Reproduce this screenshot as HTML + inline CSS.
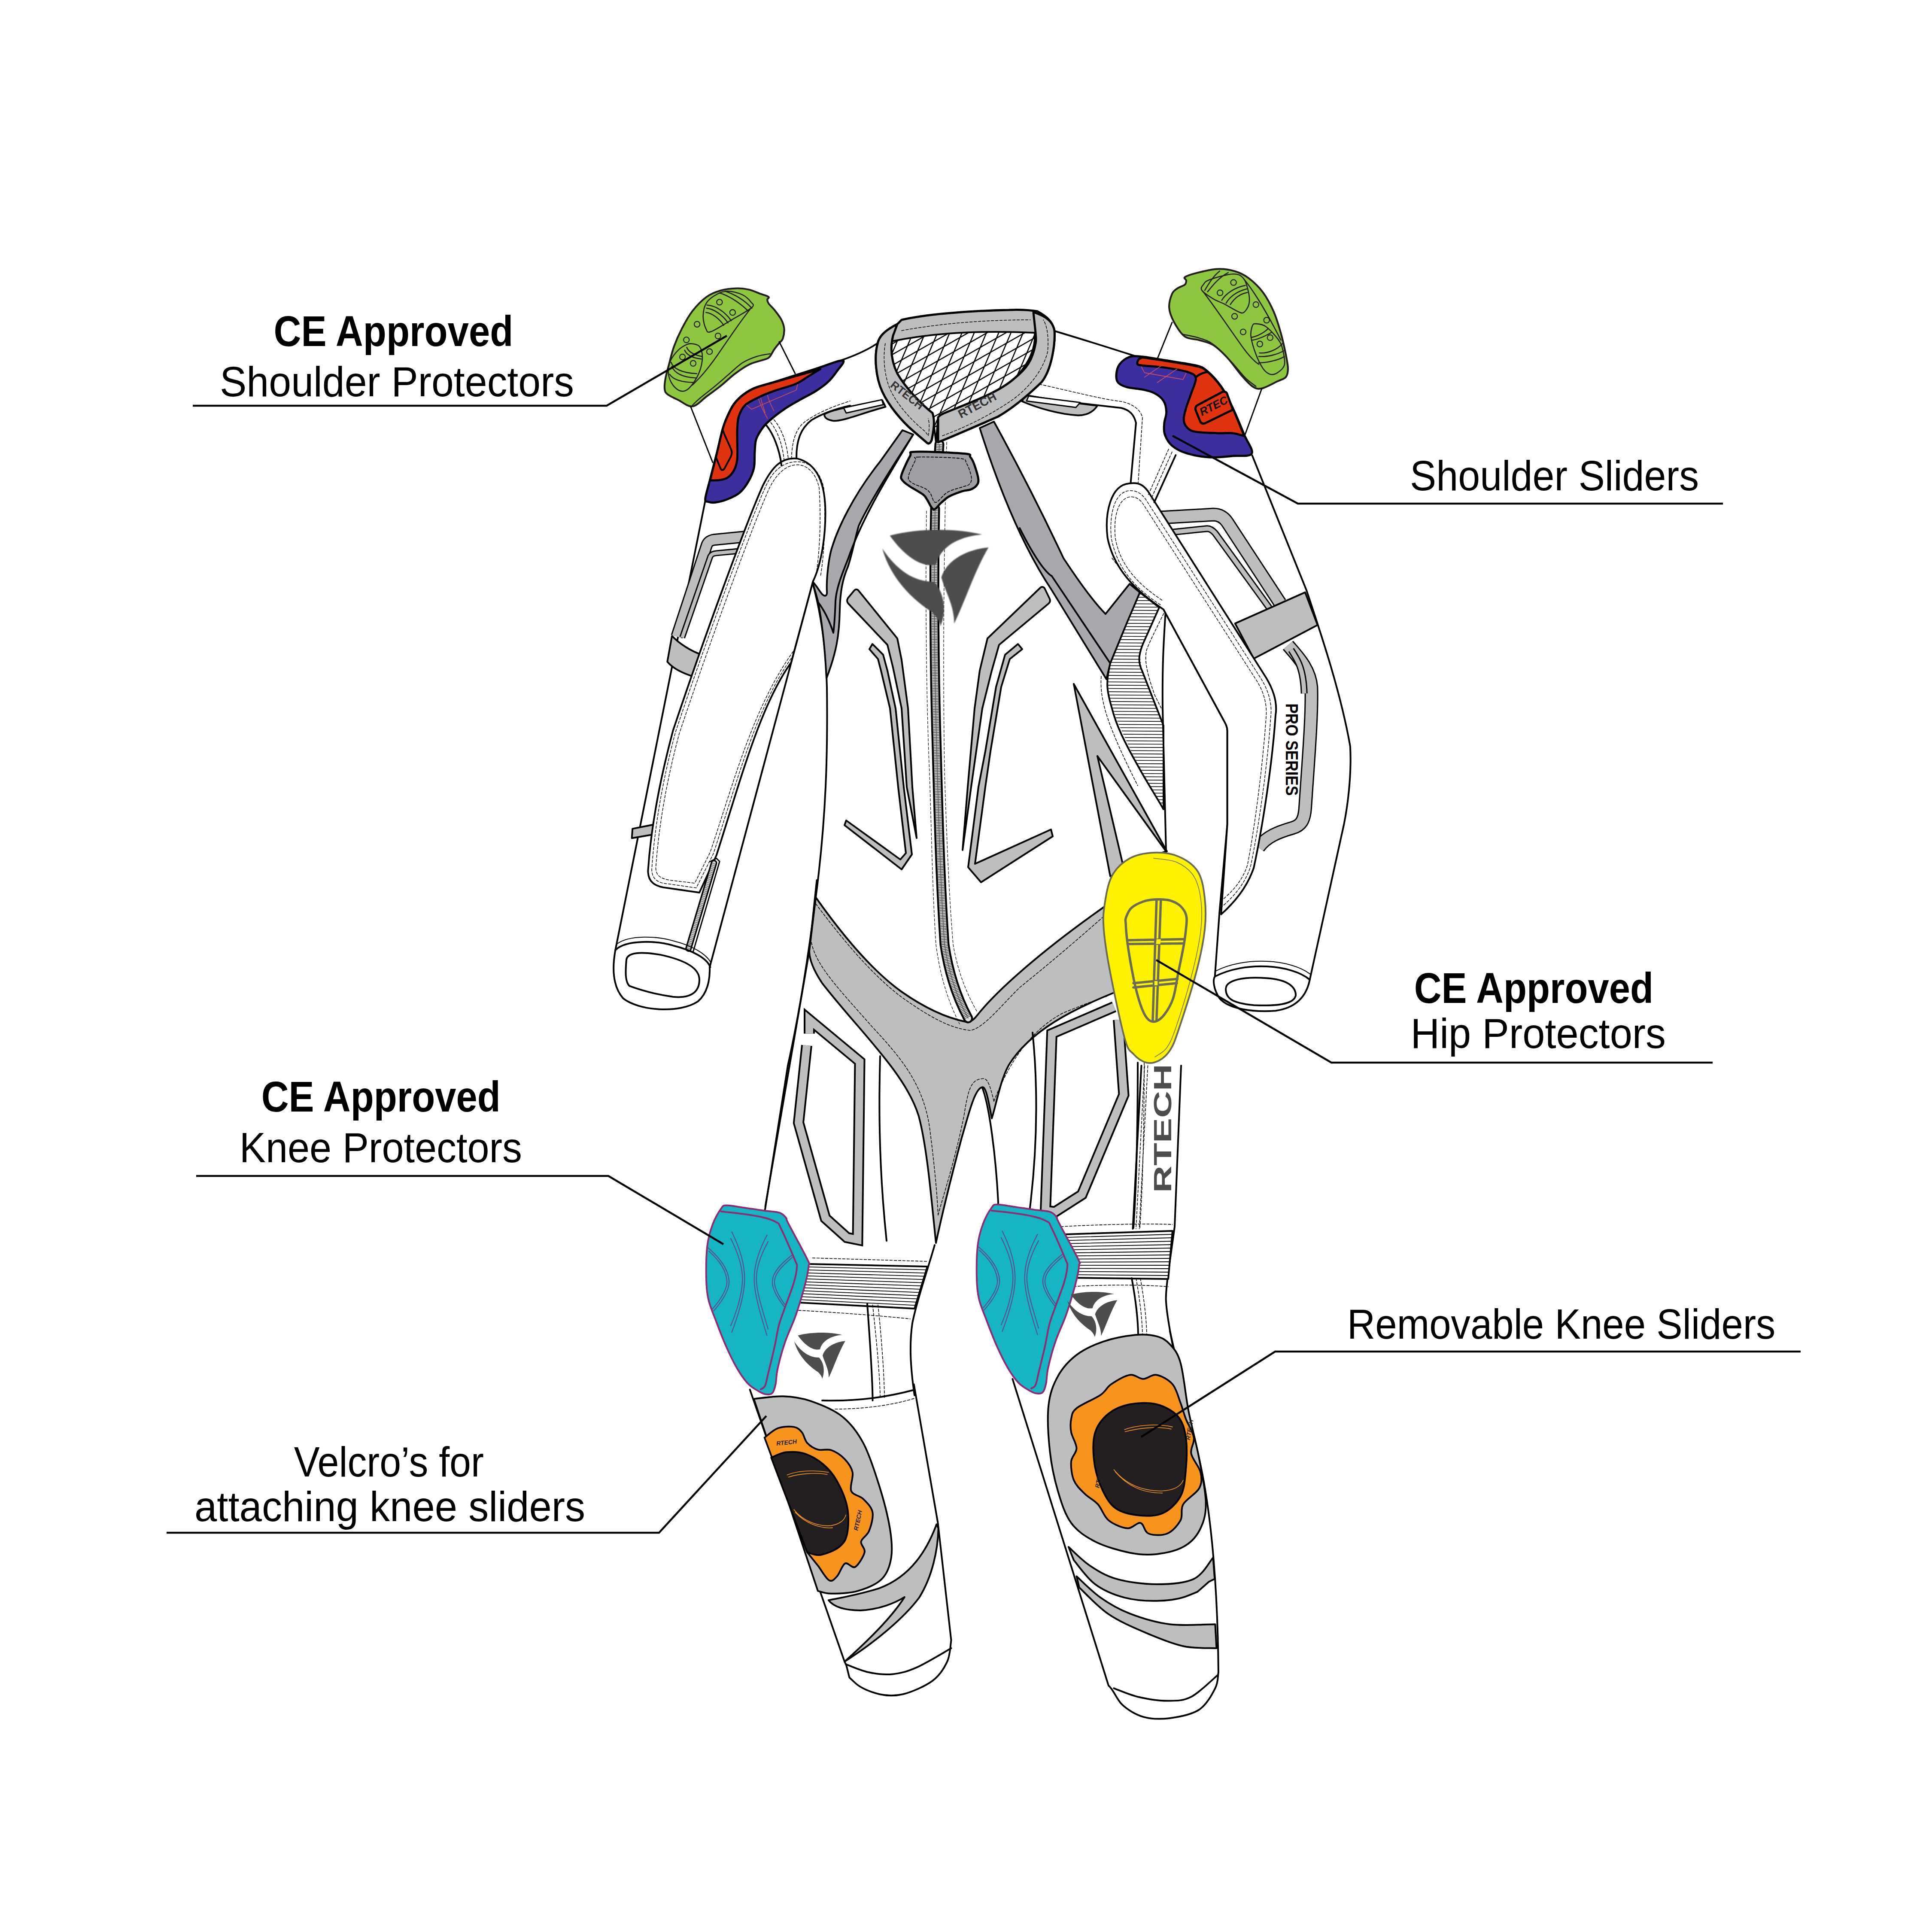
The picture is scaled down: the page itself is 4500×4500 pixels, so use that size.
<!DOCTYPE html>
<html><head><meta charset="utf-8"><style>html,body{margin:0;padding:0;background:#fff;width:4500px;height:4500px;overflow:hidden}svg{display:block}</style></head>
<body><svg xmlns="http://www.w3.org/2000/svg" width="4500" height="4500" viewBox="0 0 4500 4500">
<defs><filter id="blur2"><feGaussianBlur stdDeviation="2"/></filter></defs><rect width="4500" height="4500" fill="#fff"/>
<path d="M 1902.5 2050.0 L 1885.0 2215.0 L 1782.5 2810.0" fill="none" stroke="#000" stroke-width="4"  stroke-linejoin="round" stroke-linecap="round"/>
<path d="M 2177.0 2900.0 C 2160.0 2960.0 2135.0 3030.0 2125.0 3082.0 C 2118.0 3130.0 2120.0 3180.0 2130.0 3250.0" fill="none" stroke="#000" stroke-width="4"  stroke-linejoin="round" stroke-linecap="round"/>
<path d="M 2751.0 2482.0 C 2746.0 2632.0 2738.5 2782.0 2736.0 2857.0 C 2726.0 2932.0 2713.5 3007.0 2716.0 3032.0 C 2718.5 3082.0 2746.0 3207.0 2796.0 3448.0" fill="none" stroke="#000" stroke-width="4"  stroke-linejoin="round" stroke-linecap="round"/>
<path d="M 2287.5 2532.5 C 2305.0 2575.0 2320.0 2700.0 2325.0 2800.0 L 2325.0 2850.0" fill="none" stroke="#000" stroke-width="4"  stroke-linejoin="round" stroke-linecap="round"/>
<path d="M 1900.0 2090.0 C 1960.0 2175.0 2030.0 2260.0 2100.0 2310.0 C 2150.0 2345.0 2200.0 2370.0 2250.0 2380.0 C 2265.0 2380.0 2270.0 2372.5 2280.0 2360.0 C 2325.0 2305.0 2425.0 2215.0 2575.0 2110.0 L 2600.0 2310.0 C 2500.0 2350.0 2400.0 2400.0 2350.0 2480.0 C 2330.0 2515.0 2320.0 2575.0 2310.0 2605.0 C 2300.0 2550.0 2295.0 2530.0 2287.5 2532.5 C 2270.0 2535.0 2255.0 2600.0 2240.0 2650.0 C 2220.0 2725.0 2195.0 2825.0 2180.0 2895.0 C 2170.0 2800.0 2160.0 2675.0 2140.0 2600.0 C 2110.0 2500.0 2000.0 2400.0 1915.0 2290.0 C 1895.0 2260.0 1885.0 2235.0 1885.0 2215.0 Z" fill="#bcbec0" stroke="#000" stroke-width="4"  stroke-linejoin="round" stroke-linecap="round"/>
<path d="M 1900.0 2105.0 C 1960.0 2185.0 2030.0 2270.0 2100.0 2322.5 C 2160.0 2365.0 2210.0 2395.0 2260.0 2400.0 C 2290.0 2395.0 2325.0 2350.0 2375.0 2300.0 C 2450.0 2240.0 2525.0 2175.0 2570.0 2135.0" fill="none" stroke="#000" stroke-width="1.6" stroke-dasharray="6 4" stroke-linejoin="round" stroke-linecap="round"/>
<path d="M 1890.0 2195.0 C 1900.0 2250.0 1960.0 2310.0 2030.0 2390.0 C 2100.0 2465.0 2150.0 2525.0 2165.0 2625.0 C 2175.0 2700.0 2182.5 2775.0 2185.0 2830.0" fill="none" stroke="#000" stroke-width="1.6" stroke-dasharray="6 4" stroke-linejoin="round" stroke-linecap="round"/>
<path d="M 2315.0 2565.0 C 2305.0 2525.0 2300.0 2510.0 2287.5 2512.5 C 2260.0 2515.0 2255.0 2540.0 2245.0 2600.0 C 2225.0 2700.0 2200.0 2775.0 2185.0 2830.0" fill="none" stroke="#000" stroke-width="1.6" stroke-dasharray="6 4" stroke-linejoin="round" stroke-linecap="round"/>
<path d="M 2315.0 2565.0 C 2350.0 2475.0 2400.0 2400.0 2475.0 2360.0 C 2510.0 2345.0 2550.0 2330.0 2580.0 2320.0" fill="none" stroke="#000" stroke-width="1.6" stroke-dasharray="6 4" stroke-linejoin="round" stroke-linecap="round"/>
<path d="M 1885.0 2407.5 L 1885.0 2375.0 L 2002.5 2472.5 L 1997.5 2887.5 L 1972.5 2882.5 L 1922.5 2837.5 L 1860.0 2615.0 L 1879.0 2435.0" fill="none" stroke="#000" stroke-width="26" stroke-linejoin="miter" stroke-linecap="butt"/>
<path d="M 1885.0 2407.5 L 1885.0 2375.0 L 2002.5 2472.5 L 1997.5 2887.5 L 1972.5 2882.5 L 1922.5 2837.5 L 1860.0 2615.0 L 1879.0 2435.0" fill="none" stroke="#bcbec0" stroke-width="18" stroke-linejoin="miter" stroke-linecap="butt"/>
<path d="M 2050.0 2460.0 C 2047.5 2550.0 2045.0 2700.0 2065.0 2890.0" fill="none" stroke="#000" stroke-width="4"  stroke-linejoin="round" stroke-linecap="round"/>
<path d="M 2595.0 2345.0 L 2450.0 2407.5 L 2435.0 2820.0 L 2457.5 2822.5 L 2520.0 2782.5 L 2617.5 2550.0 L 2605.0 2375.0" fill="none" stroke="#000" stroke-width="26" stroke-linejoin="miter" stroke-linecap="butt"/>
<path d="M 2595.0 2345.0 L 2450.0 2407.5 L 2435.0 2820.0 L 2457.5 2822.5 L 2520.0 2782.5 L 2617.5 2550.0 L 2605.0 2375.0" fill="none" stroke="#bcbec0" stroke-width="18" stroke-linejoin="miter" stroke-linecap="butt"/>
<path d="M 2405.0 2405.0 C 2415.0 2500.0 2420.0 2650.0 2397.5 2825.0" fill="none" stroke="#000" stroke-width="4"  stroke-linejoin="round" stroke-linecap="round"/>
<path d="M 2650.0 2475.0 C 2650.0 2600.0 2647.5 2750.0 2640.0 2860.0" fill="none" stroke="#000" stroke-width="4"  stroke-linejoin="round" stroke-linecap="round"/>
<path d="M 2665.0 2475.0 C 2665.0 2600.0 2662.5 2750.0 2655.0 2860.0" fill="none" stroke="#000" stroke-width="1.6" stroke-dasharray="6 4" stroke-linejoin="round" stroke-linecap="round"/>
<path d="M 1881.0 2944.0 L 2160.0 2950.0 L 2130.0 3048.0 L 1862.5 3034.0 Z" fill="#fff" stroke="#000" stroke-width="4"  stroke-linejoin="round" stroke-linecap="round"/>
<path d="M 1879.6 2950.9 L 2157.7 2957.6" fill="none" stroke="#000" stroke-width="1.8"  stroke-linejoin="round" stroke-linecap="round"/>
<path d="M 1878.2 2957.8 L 2155.4 2965.1" fill="none" stroke="#000" stroke-width="1.8"  stroke-linejoin="round" stroke-linecap="round"/>
<path d="M 1876.8 2964.8 L 2153.1 2972.6" fill="none" stroke="#000" stroke-width="1.8"  stroke-linejoin="round" stroke-linecap="round"/>
<path d="M 1875.3 2971.7 L 2150.8 2980.2" fill="none" stroke="#000" stroke-width="1.8"  stroke-linejoin="round" stroke-linecap="round"/>
<path d="M 1873.9 2978.6 L 2148.4 2987.7" fill="none" stroke="#000" stroke-width="1.8"  stroke-linejoin="round" stroke-linecap="round"/>
<path d="M 1872.5 2985.6 L 2146.2 2995.2" fill="none" stroke="#000" stroke-width="1.8"  stroke-linejoin="round" stroke-linecap="round"/>
<path d="M 1871.0 2992.4 L 2143.8 3002.8" fill="none" stroke="#000" stroke-width="1.8"  stroke-linejoin="round" stroke-linecap="round"/>
<path d="M 1869.6 2999.4 L 2141.6 3010.3" fill="none" stroke="#000" stroke-width="1.8"  stroke-linejoin="round" stroke-linecap="round"/>
<path d="M 1868.2 3006.3 L 2139.2 3017.8" fill="none" stroke="#000" stroke-width="1.8"  stroke-linejoin="round" stroke-linecap="round"/>
<path d="M 1866.8 3013.2 L 2136.9 3025.4" fill="none" stroke="#000" stroke-width="1.8"  stroke-linejoin="round" stroke-linecap="round"/>
<path d="M 1865.3 3020.2 L 2134.6 3032.9" fill="none" stroke="#000" stroke-width="1.8"  stroke-linejoin="round" stroke-linecap="round"/>
<path d="M 1863.9 3027.1 L 2132.3 3040.4" fill="none" stroke="#000" stroke-width="1.8"  stroke-linejoin="round" stroke-linecap="round"/>
<path d="M 2481.0 2875.0 L 2731.0 2867.0 L 2721.0 2979.0 L 2481.0 2976.0 Z" fill="#fff" stroke="#000" stroke-width="4"  stroke-linejoin="round" stroke-linecap="round"/>
<path d="M 2481.0 2882.2 L 2730.3 2875.0" fill="none" stroke="#000" stroke-width="1.8"  stroke-linejoin="round" stroke-linecap="round"/>
<path d="M 2481.0 2889.4 L 2729.6 2883.0" fill="none" stroke="#000" stroke-width="1.8"  stroke-linejoin="round" stroke-linecap="round"/>
<path d="M 2481.0 2896.7 L 2728.8 2891.0" fill="none" stroke="#000" stroke-width="1.8"  stroke-linejoin="round" stroke-linecap="round"/>
<path d="M 2481.0 2903.8 L 2728.2 2899.0" fill="none" stroke="#000" stroke-width="1.8"  stroke-linejoin="round" stroke-linecap="round"/>
<path d="M 2481.0 2911.1 L 2727.4 2907.0" fill="none" stroke="#000" stroke-width="1.8"  stroke-linejoin="round" stroke-linecap="round"/>
<path d="M 2481.0 2918.3 L 2726.7 2915.0" fill="none" stroke="#000" stroke-width="1.8"  stroke-linejoin="round" stroke-linecap="round"/>
<path d="M 2481.0 2925.5 L 2726.0 2923.0" fill="none" stroke="#000" stroke-width="1.8"  stroke-linejoin="round" stroke-linecap="round"/>
<path d="M 2481.0 2932.7 L 2725.3 2931.0" fill="none" stroke="#000" stroke-width="1.8"  stroke-linejoin="round" stroke-linecap="round"/>
<path d="M 2481.0 2939.9 L 2724.6 2939.0" fill="none" stroke="#000" stroke-width="1.8"  stroke-linejoin="round" stroke-linecap="round"/>
<path d="M 2481.0 2947.2 L 2723.8 2947.0" fill="none" stroke="#000" stroke-width="1.8"  stroke-linejoin="round" stroke-linecap="round"/>
<path d="M 2481.0 2954.3 L 2723.2 2955.0" fill="none" stroke="#000" stroke-width="1.8"  stroke-linejoin="round" stroke-linecap="round"/>
<path d="M 2481.0 2961.6 L 2722.4 2963.0" fill="none" stroke="#000" stroke-width="1.8"  stroke-linejoin="round" stroke-linecap="round"/>
<path d="M 2481.0 2968.8 L 2721.7 2971.0" fill="none" stroke="#000" stroke-width="1.8"  stroke-linejoin="round" stroke-linecap="round"/>
<path d="M 1892.5 2930.0 L 2160.0 2938.0" fill="none" stroke="#000" stroke-width="1.6" stroke-dasharray="6 4" stroke-linejoin="round" stroke-linecap="round"/>
<path d="M 1860.0 3052.0 C 1950.0 3057.0 2050.0 3064.5 2120.0 3072.0" fill="none" stroke="#000" stroke-width="1.6" stroke-dasharray="6 4" stroke-linejoin="round" stroke-linecap="round"/>
<path d="M 2471.0 2857.0 C 2566.0 2852.0 2666.0 2849.5 2731.0 2852.0" fill="none" stroke="#000" stroke-width="1.6" stroke-dasharray="6 4" stroke-linejoin="round" stroke-linecap="round"/>
<path d="M 2491.0 2997.0 C 2566.0 2992.0 2666.0 2992.0 2721.0 2997.0" fill="none" stroke="#000" stroke-width="1.6" stroke-dasharray="6 4" stroke-linejoin="round" stroke-linecap="round"/>
<path d="M 2020.0 3037.0 C 2025.0 3107.0 2032.5 3207.0 2032.5 3262.0" fill="none" stroke="#000" stroke-width="4"  stroke-linejoin="round" stroke-linecap="round"/>
<path d="M 2032.5 3039.5 C 2040.0 3107.0 2050.0 3207.0 2050.0 3257.0" fill="none" stroke="#000" stroke-width="1.6" stroke-dasharray="6 4" stroke-linejoin="round" stroke-linecap="round"/>
<path d="M 2045.0 3039.5 C 2052.5 3107.0 2060.0 3207.0 2060.0 3257.0" fill="none" stroke="#000" stroke-width="1.6" stroke-dasharray="6 4" stroke-linejoin="round" stroke-linecap="round"/>
<path d="M 1915.0 3262.0 C 2000.0 3264.5 2075.0 3252.0 2130.0 3237.0" fill="none" stroke="#000" stroke-width="4"  stroke-linejoin="round" stroke-linecap="round"/>
<path d="M 1945.0 3282.0 C 2025.0 3282.0 2090.0 3269.5 2130.0 3257.0" fill="none" stroke="#000" stroke-width="1.6" stroke-dasharray="6 4" stroke-linejoin="round" stroke-linecap="round"/>
<path d="M 2636.0 2977.0 C 2646.0 3032.0 2651.0 3082.0 2651.0 3112.0" fill="none" stroke="#000" stroke-width="4"  stroke-linejoin="round" stroke-linecap="round"/>
<path d="M 2646.0 2977.0 C 2656.0 3032.0 2661.0 3082.0 2661.0 3112.0" fill="none" stroke="#000" stroke-width="1.6" stroke-dasharray="6 4" stroke-linejoin="round" stroke-linecap="round"/>
<path d="M 2656.0 2977.0 C 2666.0 3032.0 2671.0 3082.0 2671.0 3112.0" fill="none" stroke="#000" stroke-width="1.6" stroke-dasharray="6 4" stroke-linejoin="round" stroke-linecap="round"/>
<path d="M 2658.5 2482.0 L 2638.5 2862.0" fill="none" stroke="#000" stroke-width="4"  stroke-linejoin="round" stroke-linecap="round"/>
<path d="M 2666.0 2482.0 L 2646.0 2862.0" fill="none" stroke="#000" stroke-width="1.6" stroke-dasharray="6 4" stroke-linejoin="round" stroke-linecap="round"/>
<path d="M 2673.5 2482.0 L 2653.5 2862.0" fill="none" stroke="#000" stroke-width="1.6" stroke-dasharray="6 4" stroke-linejoin="round" stroke-linecap="round"/>
<path d="M 1892.0 1355.0 C 1910.0 1420.0 1924.0 1500.0 1926.0 1600.0 C 1928.0 1750.0 1925.0 1900.0 1900.0 2091.0 C 1880.0 2250.0 1860.0 2370.0 1835.0 2482.0 L 1782.0 2817.0" fill="none" stroke="#000" stroke-width="4"  stroke-linejoin="round" stroke-linecap="round"/>
<path d="M 2102.0 1002.0 L 2127.0 1012.0 C 2090.0 1070.0 2030.0 1160.0 2000.0 1225.0 C 1990.0 1260.0 1985.0 1290.0 1975.0 1320.0 C 1962.0 1350.0 1957.0 1380.0 1956.0 1420.0 C 1955.0 1480.0 1948.0 1520.0 1925.0 1580.0 C 1922.0 1520.0 1915.0 1450.0 1905.0 1400.0 C 1900.0 1380.0 1895.0 1365.0 1892.0 1355.0 C 1900.0 1360.0 1910.0 1380.0 1916.0 1385.0 C 1922.0 1390.0 1927.0 1388.0 1926.0 1377.0 C 1925.0 1360.0 1927.0 1320.0 1935.0 1285.0 C 1950.0 1230.0 1990.0 1150.0 2050.0 1075.0 Z" fill="#a7a9ac" stroke="#000" stroke-width="4"  stroke-linejoin="round" stroke-linecap="round"/>
<path d="M 2127.0 1012.0 C 2080.0 1090.0 2010.0 1200.0 1976.0 1300.0 C 1960.0 1340.0 1948.0 1370.0 1946.0 1400.0 C 1945.0 1430.0 1944.0 1450.0 1941.0 1474.0 C 1930.0 1440.0 1915.0 1415.0 1905.0 1402.0" fill="none" stroke="#000" stroke-width="4"  stroke-linejoin="round" stroke-linecap="round"/>
<path d="M 1977.0 1407.0 C 1972.0 1402.0 1972.0 1398.0 1975.0 1393.0 L 1990.0 1375.0 C 1993.0 1372.0 1997.0 1372.0 2000.0 1376.0 L 2090.0 1487.0 L 2100.0 1537.0 L 2115.0 1650.0 L 2125.0 1833.0 L 2135.0 1952.0 L 2112.0 1833.0 L 2100.0 1650.0 L 2080.0 1555.0 L 2067.0 1502.0 Z" fill="#bcbec0" stroke="#000" stroke-width="4"  stroke-linejoin="round" stroke-linecap="round"/>
<path d="M 2025.0 1512.0 L 2032.0 1500.0 L 2057.0 1525.0 L 2067.0 1562.0 L 2086.0 1650.0 L 2105.0 1833.0 L 2124.0 1990.0 L 2100.0 2025.0 L 1967.0 1922.0 L 1971.0 1911.0 L 2097.0 2002.0 L 2110.0 1987.0 L 2092.0 1833.0 L 2073.0 1650.0 L 2052.0 1562.0 L 2045.0 1535.0 Z" fill="#bcbec0" stroke="#000" stroke-width="4"  stroke-linejoin="round" stroke-linecap="round"/>
<path d="M 2422.0 1370.0 C 2425.0 1366.0 2430.0 1366.0 2433.0 1370.0 L 2445.0 1395.0 C 2447.0 1400.0 2445.0 1404.0 2441.0 1407.0 L 2327.0 1502.0 L 2310.0 1562.0 L 2288.0 1650.0 L 2262.0 1833.0 L 2242.0 1980.0 L 2254.0 1833.0 L 2270.0 1650.0 L 2282.0 1562.0 L 2300.0 1487.0 Z" fill="#bcbec0" stroke="#000" stroke-width="4"  stroke-linejoin="round" stroke-linecap="round"/>
<path d="M 2371.0 1500.0 L 2381.0 1512.0 L 2352.0 1535.0 L 2332.0 1600.0 L 2307.0 1750.0 L 2295.0 1833.0 L 2271.0 2012.0 L 2448.0 1932.0 L 2452.0 1948.0 L 2285.0 2055.0 L 2255.0 2020.0 L 2279.0 1833.0 L 2295.0 1750.0 L 2320.0 1600.0 L 2341.0 1525.0 Z" fill="#bcbec0" stroke="#000" stroke-width="4"  stroke-linejoin="round" stroke-linecap="round"/>
<path d="M 2178.0 1185.0 C 2175.0 1350.0 2176.0 1550.0 2182.0 1750.0 C 2186.0 1900.0 2190.0 2050.0 2200.0 2200.0 C 2212.0 2280.0 2235.0 2335.0 2255.0 2372.0" fill="none" stroke="#000" stroke-width="23"  stroke-linejoin="round" stroke-linecap="round"/>
<path d="M 2178.0 1185.0 C 2175.0 1350.0 2176.0 1550.0 2182.0 1750.0 C 2186.0 1900.0 2190.0 2050.0 2200.0 2200.0 C 2212.0 2280.0 2235.0 2335.0 2255.0 2372.0" fill="none" stroke="#dddddd" stroke-width="14"  stroke-linejoin="round" stroke-linecap="round"/>
<path d="M 2178.0 1185.0 C 2175.0 1350.0 2176.0 1550.0 2182.0 1750.0 C 2186.0 1900.0 2190.0 2050.0 2200.0 2200.0 C 2212.0 2280.0 2235.0 2335.0 2255.0 2372.0" fill="none" stroke="#333" stroke-width="13" stroke-dasharray="1.4 2.4" stroke-linecap="butt" stroke-linejoin="round"/>
<path d="M 2178.0 1185.0 C 2175.0 1350.0 2176.0 1550.0 2182.0 1750.0 C 2186.0 1900.0 2190.0 2050.0 2200.0 2200.0 C 2212.0 2280.0 2235.0 2335.0 2255.0 2372.0" fill="none" stroke="#555" stroke-width="1.5"  stroke-linejoin="round" stroke-linecap="round"/>
<path d="M 2188.0 1035.0 L 2186.0 1070.0" fill="none" stroke="#000" stroke-width="23"  stroke-linejoin="round" stroke-linecap="round"/>
<path d="M 2188.0 1035.0 L 2186.0 1070.0" fill="none" stroke="#dddddd" stroke-width="14"  stroke-linejoin="round" stroke-linecap="round"/>
<path d="M 2188.0 1035.0 L 2186.0 1070.0" fill="none" stroke="#333" stroke-width="13" stroke-dasharray="1.4 2.4" stroke-linecap="butt" stroke-linejoin="round"/>
<path d="M 2188.0 1035.0 L 2186.0 1070.0" fill="none" stroke="#555" stroke-width="1.5"  stroke-linejoin="round" stroke-linecap="round"/>
<path d="M 2158.0 1190.0 C 2155.0 1400.0 2158.0 1650.0 2165.0 1800.0 C 2170.0 1950.0 2172.0 2080.0 2180.0 2200.0 C 2192.0 2290.0 2215.0 2345.0 2235.0 2385.0" fill="none" stroke="#000" stroke-width="1.2" stroke-dasharray="6 4" stroke-linejoin="round" stroke-linecap="round"/>
<path d="M 2205.0 1030.0 C 2198.0 1300.0 2196.0 1550.0 2200.0 1800.0 C 2205.0 1950.0 2210.0 2080.0 2220.0 2200.0 C 2232.0 2270.0 2255.0 2320.0 2275.0 2355.0" fill="none" stroke="#000" stroke-width="1.2" stroke-dasharray="6 4" stroke-linejoin="round" stroke-linecap="round"/>
<path d="M 2132.2 1052.2 C 2153.3 1051.2 2225.1 1054.4 2246.5 1056.5 C 2267.8 1058.6 2256.4 1060.6 2260.1 1064.6 C 2263.9 1068.6 2265.7 1072.0 2268.8 1080.7 C 2271.9 1089.4 2277.9 1108.3 2278.8 1116.8 C 2279.6 1125.3 2276.9 1127.7 2273.8 1131.7 C 2270.7 1135.6 2265.5 1138.3 2260.1 1140.4 C 2254.7 1142.4 2249.8 1141.4 2241.5 1144.1 C 2233.2 1146.8 2218.7 1152.0 2210.4 1156.5 C 2202.1 1161.1 2197.8 1166.5 2191.8 1171.4 C 2185.8 1176.4 2179.8 1187.6 2174.4 1186.3 C 2169.0 1185.1 2163.6 1169.8 2159.5 1164.0 C 2155.4 1158.2 2156.6 1156.9 2149.6 1151.6 C 2142.5 1146.2 2125.1 1137.1 2117.3 1131.7 C 2109.4 1126.3 2105.3 1123.6 2102.4 1119.3 C 2099.5 1114.9 2097.0 1115.1 2099.9 1105.6 C 2102.8 1096.1 2114.4 1071.0 2119.8 1062.1 C 2125.1 1053.2 2111.1 1053.1 2132.2 1052.2 Z" fill="#9d9fa2" stroke="#000" stroke-width="5"  stroke-linejoin="round" stroke-linecap="round"/>
<path d="M 2138.4 1064.6 C 2155.6 1063.9 2216.4 1065.2 2235.3 1067.7 C 2254.1 1070.2 2246.9 1072.1 2251.4 1079.5 C 2256.0 1086.9 2261.6 1103.7 2262.6 1111.8 C 2263.6 1119.9 2261.2 1124.2 2257.6 1128.0 C 2254.1 1131.7 2250.0 1131.1 2241.5 1134.2 C 2233.0 1137.3 2217.1 1140.6 2206.7 1146.6 C 2196.4 1152.6 2186.0 1169.8 2179.4 1170.2 C 2172.8 1170.6 2171.1 1154.4 2167.0 1149.1 C 2162.8 1143.7 2161.8 1142.0 2154.5 1137.9 C 2147.3 1133.8 2129.9 1129.0 2123.5 1124.2 C 2117.1 1119.5 2114.6 1118.0 2116.0 1109.3 C 2117.5 1100.6 2128.4 1079.5 2132.2 1072.0 C 2135.9 1064.6 2121.2 1065.3 2138.4 1064.6 Z" fill="none" stroke="#000" stroke-width="1.8" stroke-dasharray="6 4" stroke-linejoin="round" stroke-linecap="round"/>
<g transform="translate(2055.0 1230.0) scale(0.500) translate(-610 -560)" filter="url(#blur2)">
<path d="M 645 595 C 780 560 950 560 1075 590 C 960 600 880 650 860 730 C 800 745 720 700 645 595 Z" fill="#4d4d4d"/>
<path d="M 610 655 C 650 800 760 900 840 950 C 870 980 885 1010 880 1020 C 910 950 900 860 850 810 C 760 810 680 760 610 655 Z" fill="#4d4d4d"/>
<path d="M 1105 650 C 1000 660 910 710 885 790 C 905 860 945 920 945 1005 C 1000 890 1040 760 1105 650 Z" fill="#4d4d4d"/>
</g>
<path d="M 2282.0 997.0 L 2315.0 982.0 C 2380.0 1100.0 2430.0 1200.0 2477.0 1300.0 C 2510.0 1350.0 2545.0 1400.0 2575.0 1430.0 L 2631.0 1360.0 L 2655.0 1380.0 L 2586.0 1545.0 L 2577.0 1582.0 L 2450.0 1375.0 C 2400.0 1300.0 2340.0 1180.0 2282.0 997.0 Z" fill="#a7a9ac" stroke="#000" stroke-width="4"  stroke-linejoin="round" stroke-linecap="round"/>
<path d="M 2375.0 1230.0 C 2400.0 1280.0 2430.0 1330.0 2450.0 1342.0 L 2586.0 1545.0" fill="none" stroke="#000" stroke-width="4"  stroke-linejoin="round" stroke-linecap="round"/>
<clipPath id="clipH1"><path d="M 2655 1380 L 2700 1415 L 2662 1500 L 2655 1525 L 2660 1562 L 2710 1690 L 2710 1885 L 2650 1783 L 2600 1675 L 2580 1612 L 2577 1582 L 2586 1545 L 2625 1450 Z"/></clipPath>
<path d="M 2655.0 1380.0 L 2700.0 1415.0 L 2662.0 1500.0 C 2650.0 1530.0 2652.0 1545.0 2660.0 1562.0 L 2710.0 1690.0 L 2710.0 1885.0 C 2690.0 1850.0 2670.0 1820.0 2650.0 1783.0 C 2620.0 1730.0 2600.0 1690.0 2590.0 1650.0 C 2578.0 1610.0 2575.0 1590.0 2586.0 1545.0 L 2625.0 1450.0 Z" fill="#fff" stroke="#000" stroke-width="4"  stroke-linejoin="round" stroke-linecap="round"/>
<g clip-path="url(#clipH1)">
<path d="M 2560.0 1383.0 L 2720.0 1384.0" fill="none" stroke="#000" stroke-width="1.6"  stroke-linejoin="round" stroke-linecap="round"/>
<path d="M 2560.0 1390.6 L 2720.0 1391.6" fill="none" stroke="#000" stroke-width="1.6"  stroke-linejoin="round" stroke-linecap="round"/>
<path d="M 2560.0 1398.2 L 2720.0 1399.2" fill="none" stroke="#000" stroke-width="1.6"  stroke-linejoin="round" stroke-linecap="round"/>
<path d="M 2560.0 1405.8 L 2720.0 1406.8" fill="none" stroke="#000" stroke-width="1.6"  stroke-linejoin="round" stroke-linecap="round"/>
<path d="M 2560.0 1413.4 L 2720.0 1414.4" fill="none" stroke="#000" stroke-width="1.6"  stroke-linejoin="round" stroke-linecap="round"/>
<path d="M 2560.0 1421.0 L 2720.0 1422.0" fill="none" stroke="#000" stroke-width="1.6"  stroke-linejoin="round" stroke-linecap="round"/>
<path d="M 2560.0 1428.6 L 2720.0 1429.6" fill="none" stroke="#000" stroke-width="1.6"  stroke-linejoin="round" stroke-linecap="round"/>
<path d="M 2560.0 1436.2 L 2720.0 1437.2" fill="none" stroke="#000" stroke-width="1.6"  stroke-linejoin="round" stroke-linecap="round"/>
<path d="M 2560.0 1443.8 L 2720.0 1444.8" fill="none" stroke="#000" stroke-width="1.6"  stroke-linejoin="round" stroke-linecap="round"/>
<path d="M 2560.0 1451.4 L 2720.0 1452.4" fill="none" stroke="#000" stroke-width="1.6"  stroke-linejoin="round" stroke-linecap="round"/>
<path d="M 2560.0 1459.0 L 2720.0 1460.0" fill="none" stroke="#000" stroke-width="1.6"  stroke-linejoin="round" stroke-linecap="round"/>
<path d="M 2560.0 1466.6 L 2720.0 1467.6" fill="none" stroke="#000" stroke-width="1.6"  stroke-linejoin="round" stroke-linecap="round"/>
<path d="M 2560.0 1474.2 L 2720.0 1475.2" fill="none" stroke="#000" stroke-width="1.6"  stroke-linejoin="round" stroke-linecap="round"/>
<path d="M 2560.0 1481.8 L 2720.0 1482.8" fill="none" stroke="#000" stroke-width="1.6"  stroke-linejoin="round" stroke-linecap="round"/>
<path d="M 2560.0 1489.4 L 2720.0 1490.4" fill="none" stroke="#000" stroke-width="1.6"  stroke-linejoin="round" stroke-linecap="round"/>
<path d="M 2560.0 1497.0 L 2720.0 1498.0" fill="none" stroke="#000" stroke-width="1.6"  stroke-linejoin="round" stroke-linecap="round"/>
<path d="M 2560.0 1504.6 L 2720.0 1505.6" fill="none" stroke="#000" stroke-width="1.6"  stroke-linejoin="round" stroke-linecap="round"/>
<path d="M 2560.0 1512.2 L 2720.0 1513.2" fill="none" stroke="#000" stroke-width="1.6"  stroke-linejoin="round" stroke-linecap="round"/>
<path d="M 2560.0 1519.8 L 2720.0 1520.8" fill="none" stroke="#000" stroke-width="1.6"  stroke-linejoin="round" stroke-linecap="round"/>
<path d="M 2560.0 1527.4 L 2720.0 1528.4" fill="none" stroke="#000" stroke-width="1.6"  stroke-linejoin="round" stroke-linecap="round"/>
<path d="M 2560.0 1535.0 L 2720.0 1536.0" fill="none" stroke="#000" stroke-width="1.6"  stroke-linejoin="round" stroke-linecap="round"/>
<path d="M 2560.0 1542.6 L 2720.0 1543.6" fill="none" stroke="#000" stroke-width="1.6"  stroke-linejoin="round" stroke-linecap="round"/>
<path d="M 2560.0 1550.2 L 2720.0 1551.2" fill="none" stroke="#000" stroke-width="1.6"  stroke-linejoin="round" stroke-linecap="round"/>
<path d="M 2560.0 1557.8 L 2720.0 1558.8" fill="none" stroke="#000" stroke-width="1.6"  stroke-linejoin="round" stroke-linecap="round"/>
<path d="M 2560.0 1565.4 L 2720.0 1566.4" fill="none" stroke="#000" stroke-width="1.6"  stroke-linejoin="round" stroke-linecap="round"/>
<path d="M 2560.0 1573.0 L 2720.0 1574.0" fill="none" stroke="#000" stroke-width="1.6"  stroke-linejoin="round" stroke-linecap="round"/>
<path d="M 2560.0 1580.6 L 2720.0 1581.6" fill="none" stroke="#000" stroke-width="1.6"  stroke-linejoin="round" stroke-linecap="round"/>
<path d="M 2560.0 1588.2 L 2720.0 1589.2" fill="none" stroke="#000" stroke-width="1.6"  stroke-linejoin="round" stroke-linecap="round"/>
<path d="M 2560.0 1595.8 L 2720.0 1596.8" fill="none" stroke="#000" stroke-width="1.6"  stroke-linejoin="round" stroke-linecap="round"/>
<path d="M 2560.0 1603.4 L 2720.0 1604.4" fill="none" stroke="#000" stroke-width="1.6"  stroke-linejoin="round" stroke-linecap="round"/>
<path d="M 2560.0 1611.0 L 2720.0 1612.0" fill="none" stroke="#000" stroke-width="1.6"  stroke-linejoin="round" stroke-linecap="round"/>
<path d="M 2560.0 1618.6 L 2720.0 1619.6" fill="none" stroke="#000" stroke-width="1.6"  stroke-linejoin="round" stroke-linecap="round"/>
<path d="M 2560.0 1626.2 L 2720.0 1627.2" fill="none" stroke="#000" stroke-width="1.6"  stroke-linejoin="round" stroke-linecap="round"/>
<path d="M 2560.0 1633.8 L 2720.0 1634.8" fill="none" stroke="#000" stroke-width="1.6"  stroke-linejoin="round" stroke-linecap="round"/>
<path d="M 2560.0 1641.4 L 2720.0 1642.4" fill="none" stroke="#000" stroke-width="1.6"  stroke-linejoin="round" stroke-linecap="round"/>
<path d="M 2560.0 1649.0 L 2720.0 1650.0" fill="none" stroke="#000" stroke-width="1.6"  stroke-linejoin="round" stroke-linecap="round"/>
<path d="M 2560.0 1656.6 L 2720.0 1657.6" fill="none" stroke="#000" stroke-width="1.6"  stroke-linejoin="round" stroke-linecap="round"/>
<path d="M 2560.0 1664.2 L 2720.0 1665.2" fill="none" stroke="#000" stroke-width="1.6"  stroke-linejoin="round" stroke-linecap="round"/>
<path d="M 2560.0 1671.8 L 2720.0 1672.8" fill="none" stroke="#000" stroke-width="1.6"  stroke-linejoin="round" stroke-linecap="round"/>
<path d="M 2560.0 1679.4 L 2720.0 1680.4" fill="none" stroke="#000" stroke-width="1.6"  stroke-linejoin="round" stroke-linecap="round"/>
<path d="M 2560.0 1687.0 L 2720.0 1688.0" fill="none" stroke="#000" stroke-width="1.6"  stroke-linejoin="round" stroke-linecap="round"/>
<path d="M 2560.0 1694.6 L 2720.0 1695.6" fill="none" stroke="#000" stroke-width="1.6"  stroke-linejoin="round" stroke-linecap="round"/>
<path d="M 2560.0 1702.2 L 2720.0 1703.2" fill="none" stroke="#000" stroke-width="1.6"  stroke-linejoin="round" stroke-linecap="round"/>
<path d="M 2560.0 1709.8 L 2720.0 1710.8" fill="none" stroke="#000" stroke-width="1.6"  stroke-linejoin="round" stroke-linecap="round"/>
<path d="M 2560.0 1717.4 L 2720.0 1718.4" fill="none" stroke="#000" stroke-width="1.6"  stroke-linejoin="round" stroke-linecap="round"/>
<path d="M 2560.0 1725.0 L 2720.0 1726.0" fill="none" stroke="#000" stroke-width="1.6"  stroke-linejoin="round" stroke-linecap="round"/>
<path d="M 2560.0 1732.6 L 2720.0 1733.6" fill="none" stroke="#000" stroke-width="1.6"  stroke-linejoin="round" stroke-linecap="round"/>
<path d="M 2560.0 1740.2 L 2720.0 1741.2" fill="none" stroke="#000" stroke-width="1.6"  stroke-linejoin="round" stroke-linecap="round"/>
<path d="M 2560.0 1747.8 L 2720.0 1748.8" fill="none" stroke="#000" stroke-width="1.6"  stroke-linejoin="round" stroke-linecap="round"/>
<path d="M 2560.0 1755.4 L 2720.0 1756.4" fill="none" stroke="#000" stroke-width="1.6"  stroke-linejoin="round" stroke-linecap="round"/>
<path d="M 2560.0 1763.0 L 2720.0 1764.0" fill="none" stroke="#000" stroke-width="1.6"  stroke-linejoin="round" stroke-linecap="round"/>
<path d="M 2560.0 1770.6 L 2720.0 1771.6" fill="none" stroke="#000" stroke-width="1.6"  stroke-linejoin="round" stroke-linecap="round"/>
<path d="M 2560.0 1778.2 L 2720.0 1779.2" fill="none" stroke="#000" stroke-width="1.6"  stroke-linejoin="round" stroke-linecap="round"/>
<path d="M 2560.0 1785.8 L 2720.0 1786.8" fill="none" stroke="#000" stroke-width="1.6"  stroke-linejoin="round" stroke-linecap="round"/>
<path d="M 2560.0 1793.4 L 2720.0 1794.4" fill="none" stroke="#000" stroke-width="1.6"  stroke-linejoin="round" stroke-linecap="round"/>
<path d="M 2560.0 1801.0 L 2720.0 1802.0" fill="none" stroke="#000" stroke-width="1.6"  stroke-linejoin="round" stroke-linecap="round"/>
<path d="M 2560.0 1808.6 L 2720.0 1809.6" fill="none" stroke="#000" stroke-width="1.6"  stroke-linejoin="round" stroke-linecap="round"/>
<path d="M 2560.0 1816.2 L 2720.0 1817.2" fill="none" stroke="#000" stroke-width="1.6"  stroke-linejoin="round" stroke-linecap="round"/>
<path d="M 2560.0 1823.8 L 2720.0 1824.8" fill="none" stroke="#000" stroke-width="1.6"  stroke-linejoin="round" stroke-linecap="round"/>
<path d="M 2560.0 1831.4 L 2720.0 1832.4" fill="none" stroke="#000" stroke-width="1.6"  stroke-linejoin="round" stroke-linecap="round"/>
<path d="M 2560.0 1839.0 L 2720.0 1840.0" fill="none" stroke="#000" stroke-width="1.6"  stroke-linejoin="round" stroke-linecap="round"/>
<path d="M 2560.0 1846.6 L 2720.0 1847.6" fill="none" stroke="#000" stroke-width="1.6"  stroke-linejoin="round" stroke-linecap="round"/>
<path d="M 2560.0 1854.2 L 2720.0 1855.2" fill="none" stroke="#000" stroke-width="1.6"  stroke-linejoin="round" stroke-linecap="round"/>
<path d="M 2560.0 1861.8 L 2720.0 1862.8" fill="none" stroke="#000" stroke-width="1.6"  stroke-linejoin="round" stroke-linecap="round"/>
<path d="M 2560.0 1869.4 L 2720.0 1870.4" fill="none" stroke="#000" stroke-width="1.6"  stroke-linejoin="round" stroke-linecap="round"/>
<path d="M 2560.0 1877.0 L 2720.0 1878.0" fill="none" stroke="#000" stroke-width="1.6"  stroke-linejoin="round" stroke-linecap="round"/>
<path d="M 2560.0 1884.6 L 2720.0 1885.6" fill="none" stroke="#000" stroke-width="1.6"  stroke-linejoin="round" stroke-linecap="round"/>
<path d="M 2560.0 1892.2 L 2720.0 1893.2" fill="none" stroke="#000" stroke-width="1.6"  stroke-linejoin="round" stroke-linecap="round"/>
</g>
<path d="M 2565.0 1575.0 C 2562.0 1610.0 2570.0 1650.0 2590.0 1700.0 C 2610.0 1750.0 2630.0 1790.0 2650.0 1830.0" fill="none" stroke="#000" stroke-width="1.6" stroke-dasharray="6 4" stroke-linejoin="round" stroke-linecap="round"/>
<path d="M 2715.0 1420.0 C 2700.0 1450.0 2680.0 1490.0 2672.0 1510.0 C 2665.0 1530.0 2668.0 1560.0 2690.0 1620.0 L 2710.0 1660.0" fill="none" stroke="#000" stroke-width="1.6" stroke-dasharray="6 4" stroke-linejoin="round" stroke-linecap="round"/>
<path d="M 2590.0 1300.0 C 2620.0 1340.0 2660.0 1380.0 2715.0 1425.0" fill="none" stroke="#000" stroke-width="1.6" stroke-dasharray="6 4" stroke-linejoin="round" stroke-linecap="round"/>
<path d="M 2501.0 1593.0 L 2718.0 1983.0 L 2586.0 2041.0 Z M 2556.0 1761.0 L 2716.0 1983.0 L 2616.0 2016.0 Z" fill="#bcbec0" stroke="#000" stroke-width="4" fill-rule="evenodd" stroke-linejoin="round" stroke-linecap="round"/>
<path d="M 2715.0 1422.0 C 2710.0 1500.0 2707.0 1550.0 2708.0 1650.0 L 2716.0 1985.0" fill="none" stroke="#000" stroke-width="4"  stroke-linejoin="round" stroke-linecap="round"/>
<path d="M 1647.1 1144.2 L 1433.3 2213.0 C 1426.1 2252.9 1426.1 2296.4 1451.4 2325.4 C 1487.7 2354.3 1581.9 2361.6 1625.4 2332.6 C 1647.1 2314.5 1654.3 2281.9 1652.9 2252.9 L 1893.5 1354.3" fill="#fff" stroke="#000" stroke-width="4"  stroke-linejoin="round" stroke-linecap="round"/>
<path d="M 1576.1 1482.6 L 1645.7 1271.0 C 1648.6 1261.6 1654.3 1258.7 1663.0 1257.2 L 1736.2 1250.0" fill="none" stroke="#000" stroke-width="28" stroke-linejoin="miter" stroke-linecap="butt"/>
<path d="M 1576.1 1482.6 L 1645.7 1271.0 C 1648.6 1261.6 1654.3 1258.7 1663.0 1257.2 L 1736.2 1250.0" fill="none" stroke="#bcbec0" stroke-width="22" stroke-linejoin="miter" stroke-linecap="butt"/>
<path d="M 1589.1 1484.8 L 1654.3 1296.4 C 1657.2 1290.6 1661.6 1289.1 1668.8 1288.4 L 1723.2 1283.3" fill="none" stroke="#000" stroke-width="14" stroke-linejoin="miter" stroke-linecap="butt"/>
<path d="M 1589.1 1484.8 L 1654.3 1296.4 C 1657.2 1290.6 1661.6 1289.1 1668.8 1288.4 L 1723.2 1283.3" fill="none" stroke="#bcbec0" stroke-width="8" stroke-linejoin="miter" stroke-linecap="butt"/>
<path d="M 1565.2 1481.2 C 1581.9 1499.3 1610.9 1517.4 1634.1 1524.6 L 1618.1 1576.8 C 1589.1 1568.1 1567.4 1557.2 1554.3 1541.3 Z" fill="#bcbec0" stroke="#000" stroke-width="4"  stroke-linejoin="round" stroke-linecap="round"/>
<path d="M 1473.2 1930.4 L 1527.5 1919.6 L 1522.5 1943.5 L 1471.7 1952.2 Z" fill="#bcbec0" stroke="#000" stroke-width="4"  stroke-linejoin="round" stroke-linecap="round"/>
<path d="M 1893.5 1354.3 C 1908.0 1325.4 1922.5 1267.4 1922.5 1194.9 C 1922.5 1122.5 1900.7 1079.0 1857.2 1068.1 C 1821.0 1064.5 1799.3 1086.2 1777.5 1129.7 C 1741.3 1209.4 1639.9 1484.8 1567.4 1702.2 C 1538.4 1810.9 1516.7 1919.6 1509.4 2028.3 C 1509.4 2053.6 1523.9 2064.5 1552.9 2068.1 L 1629.0 2079.0 L 1668.8 1992.0 C 1726.8 1810.9 1770.3 1644.2 1842.8 1542.8 Z" fill="#fff" stroke="#000" stroke-width="4"  stroke-linejoin="round" stroke-linecap="round"/>
<path d="M 1900.7 1339.9 C 1911.6 1267.4 1911.6 1194.9 1908.0 1137.0 C 1900.7 1100.7 1879.0 1082.6 1857.2 1082.6 C 1828.3 1082.6 1806.5 1108.0 1792.0 1137.0 C 1755.8 1216.7 1654.3 1492.0 1581.9 1709.4 C 1552.9 1818.1 1534.8 1919.6 1527.5 2021.0 C 1527.5 2039.1 1538.4 2046.4 1560.1 2050.0 L 1618.1 2057.2 L 1654.3 1984.8 C 1712.3 1810.9 1755.8 1644.2 1850.0 1513.8" fill="none" stroke="#000" stroke-width="1.5" stroke-dasharray="6 4" stroke-linejoin="round" stroke-linecap="round"/>
<path d="M 1911.6 1339.9 C 1922.5 1267.4 1922.5 1194.9 1918.8 1137.0 C 1909.4 1093.5 1882.6 1075.4 1857.2 1075.4 C 1821.0 1075.4 1797.8 1100.7 1783.3 1133.3 C 1747.1 1213.0 1645.7 1488.4 1573.2 1705.8 C 1544.2 1814.5 1525.4 1919.6 1518.1 2024.6 C 1518.1 2046.4 1531.2 2057.2 1556.5 2058.7 L 1621.7 2068.1 L 1661.6 1988.4 C 1719.6 1810.9 1763.0 1644.2 1846.4 1528.3" fill="none" stroke="#000" stroke-width="1.5" stroke-dasharray="6 4" stroke-linejoin="round" stroke-linecap="round"/>
<path d="M 1603.6 2209.4 L 1663.0 2010.1" fill="none" stroke="#000" stroke-width="15"  stroke-linejoin="round" stroke-linecap="round"/>
<path d="M 1603.6 2209.4 L 1663.0 2010.1" fill="none" stroke="#d0d0d0" stroke-width="8"  stroke-linejoin="round" stroke-linecap="round"/>
<path d="M 1603.6 2209.4 L 1663.0 2010.1" fill="none" stroke="#555" stroke-width="8" stroke-dasharray="1.2 3" stroke-linecap="butt" stroke-linejoin="round"/>
<path d="M 1614.5 2216.7 L 1676.1 2006.5 L 1668.8 1999.3 L 1654.3 2006.5" fill="none" stroke="#000" stroke-width="3"  stroke-linejoin="round" stroke-linecap="round"/>
<path d="M 1433.3 2213.0 C 1458.7 2187.7 1531.2 2191.3 1567.4 2202.2 C 1610.9 2213.0 1647.1 2231.2 1654.3 2252.9" fill="none" stroke="#000" stroke-width="4"  stroke-linejoin="round" stroke-linecap="round"/>
<path d="M 1437.0 2198.6 C 1465.9 2176.8 1531.2 2180.4 1567.4 2191.3 C 1610.9 2202.2 1643.5 2220.3 1655.8 2242.0" fill="none" stroke="#000" stroke-width="2"  stroke-linejoin="round" stroke-linecap="round"/>
<path d="M 1458.7 2238.4 C 1458.7 2216.7 1494.9 2216.7 1538.4 2223.9 C 1589.1 2234.8 1629.0 2252.9 1629.0 2281.9 C 1629.0 2314.5 1603.6 2325.4 1567.4 2321.7 C 1531.2 2316.7 1494.9 2307.2 1465.9 2296.4 C 1455.1 2285.5 1457.2 2260.1 1458.7 2238.4 Z" fill="#fff" stroke="#000" stroke-width="4"  stroke-linejoin="round" stroke-linecap="round"/>
<path d="M 2916.7 1060.9 L 3043.5 1376.1 C 3079.7 1484.8 3123.2 1615.2 3144.9 1738.4 C 3148.6 1810.9 3137.7 1883.3 3130.4 1919.6 L 3050.7 2281.9 C 3043.5 2318.1 3021.7 2347.1 2971.0 2354.3 C 2920.3 2358.0 2862.3 2350.7 2840.6 2325.4 C 2826.1 2303.6 2824.6 2281.9 2829.7 2274.6 L 2840.6 2122.5 L 2858.7 1919.6 L 2858.7 1702.2 C 2858.7 1691.3 2853.6 1684.1 2847.8 1673.2 L 2710.1 1419.6" fill="#fff" stroke="#000" stroke-width="4"  stroke-linejoin="round" stroke-linecap="round"/>
<path d="M 2699.3 1205.8 L 2826.1 1198.6 C 2840.6 1198.6 2851.4 1205.8 2858.7 1216.7 L 2981.9 1405.1" fill="none" stroke="#000" stroke-width="32" stroke-linejoin="miter" stroke-linecap="butt"/>
<path d="M 2699.3 1205.8 L 2826.1 1198.6 C 2840.6 1198.6 2851.4 1205.8 2858.7 1216.7 L 2981.9 1405.1" fill="none" stroke="#bcbec0" stroke-width="26" stroke-linejoin="miter" stroke-linecap="butt"/>
<path d="M 2728.3 1239.9 L 2811.6 1231.2 C 2818.8 1231.2 2826.1 1237.0 2830.4 1242.0 L 2956.5 1415.9" fill="none" stroke="#000" stroke-width="16" stroke-linejoin="miter" stroke-linecap="butt"/>
<path d="M 2728.3 1239.9 L 2811.6 1231.2 C 2818.8 1231.2 2826.1 1237.0 2830.4 1242.0 L 2956.5 1415.9" fill="none" stroke="#bcbec0" stroke-width="10" stroke-linejoin="miter" stroke-linecap="butt"/>
<path d="M 3000.0 1502.9 C 3021.7 1528.3 3050.7 1557.2 3054.3 1600.7 C 3056.5 1665.9 3047.1 1774.6 3039.9 1883.3 C 3037.7 1912.3 3029.0 1923.2 3010.9 1928.3 C 2978.3 1937.7 2949.3 1948.6 2931.2 1973.9" fill="none" stroke="#000" stroke-width="32" stroke-linejoin="miter" stroke-linecap="butt"/>
<path d="M 3000.0 1502.9 C 3021.7 1528.3 3050.7 1557.2 3054.3 1600.7 C 3056.5 1665.9 3047.1 1774.6 3039.9 1883.3 C 3037.7 1912.3 3029.0 1923.2 3010.9 1928.3 C 2978.3 1937.7 2949.3 1948.6 2931.2 1973.9" fill="none" stroke="#bcbec0" stroke-width="26" stroke-linejoin="miter" stroke-linecap="butt"/>
<path d="M 3007.2 1513.8 C 3021.7 1535.5 3036.2 1557.2 3037.7 1615.2" fill="none" stroke="#000" stroke-width="16" stroke-linejoin="miter" stroke-linecap="butt"/>
<path d="M 3007.2 1513.8 C 3021.7 1535.5 3036.2 1557.2 3037.7 1615.2" fill="none" stroke="#bcbec0" stroke-width="10" stroke-linejoin="miter" stroke-linecap="butt"/>
<path d="M 2876.8 1452.2 L 3039.9 1379.7 L 3068.8 1455.8 L 2920.3 1534.1 Z" fill="#bcbec0" stroke="#000" stroke-width="4"  stroke-linejoin="round" stroke-linecap="round"/>
<path d="M 2710.1 1419.6 C 2644.9 1376.1 2594.2 1325.4 2579.7 1252.9 C 2572.5 1194.9 2587.0 1129.7 2630.4 1126.1 C 2652.2 1122.5 2663.0 1129.7 2673.9 1144.2 L 2949.3 1579.0 C 2971.0 1615.2 2974.6 1644.2 2971.0 1665.9 C 2963.8 1774.6 2942.0 1919.6 2920.3 2021.0 C 2905.8 2064.5 2876.8 2100.7 2844.2 2129.7 L 2858.7 1919.6 L 2858.7 1702.2 C 2858.7 1691.3 2853.6 1684.1 2847.8 1673.2 Z" fill="#fff" stroke="#000" stroke-width="4"  stroke-linejoin="round" stroke-linecap="round"/>
<path d="M 2706.5 1397.8 C 2652.2 1361.6 2608.7 1318.1 2597.8 1252.9 C 2592.8 1202.2 2605.1 1158.7 2634.1 1157.2 C 2648.6 1157.2 2655.8 1164.5 2663.0 1174.6 L 2927.5 1586.2 C 2945.7 1615.2 2950.7 1644.2 2949.3 1665.9 C 2942.0 1774.6 2923.9 1919.6 2905.8 2013.8 C 2894.9 2050.0 2869.6 2079.0 2840.6 2100.7" fill="none" stroke="#000" stroke-width="1.5" stroke-dasharray="6 4" stroke-linejoin="round" stroke-linecap="round"/>
<path d="M 2702.9 1408.7 C 2641.3 1368.8 2601.4 1321.7 2588.4 1252.9 C 2583.3 1198.6 2595.7 1144.2 2631.9 1142.8 C 2650.7 1142.8 2659.4 1151.4 2668.1 1162.3 L 2938.4 1582.6 C 2958.0 1615.2 2962.3 1644.2 2960.1 1665.9 C 2952.9 1774.6 2933.3 1919.6 2913.0 2017.4 C 2900.7 2057.2 2873.2 2089.9 2842.0 2115.2" fill="none" stroke="#000" stroke-width="1.5" stroke-dasharray="6 4" stroke-linejoin="round" stroke-linecap="round"/>
<text transform="translate(2994.9 1638.4) rotate(90)" font-family="Liberation Sans, sans-serif" font-weight="bold" font-size="40" textLength="215" lengthAdjust="spacingAndGlyphs">PRO SERIES</text>
<path d="M 2829.7 2274.6 C 2898.6 2238.4 3007.2 2245.7 3050.7 2281.9" fill="none" stroke="#000" stroke-width="4"  stroke-linejoin="round" stroke-linecap="round"/>
<path d="M 2831.9 2261.6 C 2898.6 2227.5 3007.2 2232.6 3054.3 2271.0" fill="none" stroke="#000" stroke-width="2"  stroke-linejoin="round" stroke-linecap="round"/>
<path d="M 2855.1 2303.6 C 2855.1 2281.9 2898.6 2274.6 2949.3 2278.3 C 3007.2 2281.9 3018.1 2303.6 3018.1 2318.1 C 3014.5 2339.9 2971.0 2343.5 2920.3 2341.3 C 2869.6 2336.2 2855.1 2325.4 2855.1 2303.6 Z" fill="#fff" stroke="#000" stroke-width="4"  stroke-linejoin="round" stroke-linecap="round"/>
<path d="M 2050.0 795.0 C 2030.0 810.0 2000.0 825.0 1960.0 839.0" fill="none" stroke="#000" stroke-width="4"  stroke-linejoin="round" stroke-linecap="round"/>
<path d="M 2453.0 770.0 C 2520.0 790.0 2590.0 812.0 2646.0 830.0" fill="none" stroke="#000" stroke-width="4"  stroke-linejoin="round" stroke-linecap="round"/>
<path d="M 1784.0 989.6 C 1798.9 1006.3 1815.6 1043.6 1820.3 1084.6" fill="none" stroke="#000" stroke-width="4"  stroke-linejoin="round" stroke-linecap="round"/>
<path d="M 1795.1 984.0 C 1810.1 1002.6 1823.1 1034.3 1826.8 1077.1" fill="none" stroke="#000" stroke-width="1.6" stroke-dasharray="6 4" stroke-linejoin="round" stroke-linecap="round"/>
<path d="M 1802.6 977.4 C 1819.4 997.0 1832.4 1028.7 1836.1 1069.7" fill="none" stroke="#000" stroke-width="1.6" stroke-dasharray="6 4" stroke-linejoin="round" stroke-linecap="round"/>
<path d="M 1855.1 1067.8 C 1854.4 1025.0 1865.9 997.0 1890.2 978.4 C 1918.1 961.6 1955.4 950.4 1980.0 944.8" fill="none" stroke="#000" stroke-width="4"  stroke-linejoin="round" stroke-linecap="round"/>
<path d="M 1843.6 1068.7 C 1844.5 1025.0 1854.8 997.0 1875.3 982.1 C 1908.8 957.9 1951.7 943.0 1980.0 934.0" fill="none" stroke="#000" stroke-width="1.6" stroke-dasharray="6 4" stroke-linejoin="round" stroke-linecap="round"/>
<path d="M 1920.0 965.0 C 1935.0 955.0 1965.0 950.0 2055.0 932.5 L 2062.5 947.5 C 2000.0 965.0 1960.0 982.5 1940.0 980.0 C 1925.0 977.5 1920.0 972.5 1920.0 965.0 Z" fill="#bcbec0" stroke="#000" stroke-width="4"  stroke-linejoin="round" stroke-linecap="round"/>
<path d="M 1965.0 950.0 L 1971.0 962.0 L 2057.5 942.5 L 2054.0 931.0 Z" fill="#fff" stroke="#000" stroke-width="3"  stroke-linejoin="round" stroke-linecap="round"/>
<path d="M 2386.0 920.0 C 2466.0 935.0 2566.0 945.0 2611.0 950.0 C 2631.0 955.0 2641.0 965.0 2646.0 985.0 L 2633.5 1125.0" fill="none" stroke="#000" stroke-width="4"  stroke-linejoin="round" stroke-linecap="round"/>
<path d="M 2421.0 895.0 C 2491.0 910.0 2566.0 930.0 2611.0 935.0 C 2636.0 940.0 2656.0 952.5 2661.0 972.5 L 2651.0 1125.0" fill="none" stroke="#000" stroke-width="1.6" stroke-dasharray="6 4" stroke-linejoin="round" stroke-linecap="round"/>
<path d="M 2386.0 920.0 C 2441.0 930.0 2491.0 937.5 2556.0 945.0 C 2546.0 960.0 2531.0 967.5 2511.0 967.5 C 2466.0 965.0 2416.0 950.0 2381.0 935.0 Z" fill="#bcbec0" stroke="#000" stroke-width="4"  stroke-linejoin="round" stroke-linecap="round"/>
<path d="M 2396.0 922.5 L 2516.0 937.5 L 2506.0 949.0 L 2391.0 934.0 Z" fill="#fff" stroke="#000" stroke-width="3"  stroke-linejoin="round" stroke-linecap="round"/>
<path d="M 2738.5 1060.0 L 2688.5 1170.0" fill="none" stroke="#000" stroke-width="4"  stroke-linejoin="round" stroke-linecap="round"/>
<path d="M 2722.0 1046.0 L 2673.5 1155.0" fill="none" stroke="#000" stroke-width="1.6" stroke-dasharray="6 4" stroke-linejoin="round" stroke-linecap="round"/>
<path d="M 2730.0 1052.5 L 2681.0 1162.5" fill="none" stroke="#000" stroke-width="1.6" stroke-dasharray="6 4" stroke-linejoin="round" stroke-linecap="round"/>
<path d="M 2090.0 755.0 C 2060.0 770.0 2048.0 785.0 2045.0 797.0 C 2035.0 830.0 2040.0 880.0 2055.0 912.0 C 2070.0 945.0 2100.0 980.0 2125.0 1002.0 L 2160.0 1032.0 C 2165.0 1035.0 2168.0 1030.0 2170.0 1025.0 C 2175.0 1000.0 2178.0 980.0 2172.0 962.0 L 2185.0 972.0 L 2185.0 1030.0 C 2210.0 1020.0 2280.0 990.0 2325.0 970.0 C 2360.0 950.0 2395.0 920.0 2426.0 890.0 C 2450.0 860.0 2458.0 800.0 2456.0 770.0 C 2452.0 750.0 2440.0 738.0 2416.0 725.0 C 2390.0 721.0 2370.0 721.0 2350.0 722.0 C 2250.0 724.0 2150.0 733.0 2100.0 745.0 Z" fill="#bcbec0" stroke="#000" stroke-width="5"  stroke-linejoin="round" stroke-linecap="round"/>
<clipPath id="clipMesh"><path d="M 2077 795 C 2150 780 2250 768 2410 775 C 2412 800 2405 840 2362 882 C 2330 910 2280 930 2225 952 C 2200 962 2190 965 2185 972 L 2180 1030 L 2172 962 C 2150 945 2110 905 2090 870 C 2078 845 2072 815 2077 795 Z"/></clipPath>
<path d="M 2077.0 795.0 C 2150.0 780.0 2250.0 768.0 2410.0 775.0 C 2412.0 800.0 2405.0 840.0 2362.0 882.0 C 2330.0 910.0 2280.0 930.0 2225.0 952.0 C 2200.0 962.0 2190.0 965.0 2185.0 972.0 L 2180.0 1030.0 L 2172.0 962.0 C 2150.0 945.0 2110.0 905.0 2090.0 870.0 C 2078.0 845.0 2072.0 815.0 2077.0 795.0 Z" fill="#fff" stroke="#000" stroke-width="4"  stroke-linejoin="round" stroke-linecap="round"/>
<g clip-path="url(#clipMesh)">
<path d="M 2040.0 722.8 L 2460.0 483.4" fill="none" stroke="#000" stroke-width="2.6"  stroke-linejoin="round" stroke-linecap="round"/>
<path d="M 2040.0 747.8 L 2460.0 508.4" fill="none" stroke="#000" stroke-width="2.6"  stroke-linejoin="round" stroke-linecap="round"/>
<path d="M 2040.0 772.8 L 2460.0 533.4" fill="none" stroke="#000" stroke-width="2.6"  stroke-linejoin="round" stroke-linecap="round"/>
<path d="M 2040.0 797.8 L 2460.0 558.4" fill="none" stroke="#000" stroke-width="2.6"  stroke-linejoin="round" stroke-linecap="round"/>
<path d="M 2040.0 822.8 L 2460.0 583.4" fill="none" stroke="#000" stroke-width="2.6"  stroke-linejoin="round" stroke-linecap="round"/>
<path d="M 2040.0 847.8 L 2460.0 608.4" fill="none" stroke="#000" stroke-width="2.6"  stroke-linejoin="round" stroke-linecap="round"/>
<path d="M 2040.0 872.8 L 2460.0 633.4" fill="none" stroke="#000" stroke-width="2.6"  stroke-linejoin="round" stroke-linecap="round"/>
<path d="M 2040.0 897.8 L 2460.0 658.4" fill="none" stroke="#000" stroke-width="2.6"  stroke-linejoin="round" stroke-linecap="round"/>
<path d="M 2040.0 922.8 L 2460.0 683.4" fill="none" stroke="#000" stroke-width="2.6"  stroke-linejoin="round" stroke-linecap="round"/>
<path d="M 2040.0 947.8 L 2460.0 708.4" fill="none" stroke="#000" stroke-width="2.6"  stroke-linejoin="round" stroke-linecap="round"/>
<path d="M 2040.0 972.8 L 2460.0 733.4" fill="none" stroke="#000" stroke-width="2.6"  stroke-linejoin="round" stroke-linecap="round"/>
<path d="M 2040.0 997.8 L 2460.0 758.4" fill="none" stroke="#000" stroke-width="2.6"  stroke-linejoin="round" stroke-linecap="round"/>
<path d="M 2040.0 1022.8 L 2460.0 783.4" fill="none" stroke="#000" stroke-width="2.6"  stroke-linejoin="round" stroke-linecap="round"/>
<path d="M 2040.0 1047.8 L 2460.0 808.4" fill="none" stroke="#000" stroke-width="2.6"  stroke-linejoin="round" stroke-linecap="round"/>
<path d="M 2040.0 1072.8 L 2460.0 833.4" fill="none" stroke="#000" stroke-width="2.6"  stroke-linejoin="round" stroke-linecap="round"/>
<path d="M 2040.0 1097.8 L 2460.0 858.4" fill="none" stroke="#000" stroke-width="2.6"  stroke-linejoin="round" stroke-linecap="round"/>
<path d="M 2040.0 1122.8 L 2460.0 883.4" fill="none" stroke="#000" stroke-width="2.6"  stroke-linejoin="round" stroke-linecap="round"/>
<path d="M 2040.0 1147.8 L 2460.0 908.4" fill="none" stroke="#000" stroke-width="2.6"  stroke-linejoin="round" stroke-linecap="round"/>
<path d="M 2040.0 1172.8 L 2460.0 933.4" fill="none" stroke="#000" stroke-width="2.6"  stroke-linejoin="round" stroke-linecap="round"/>
<path d="M 2040.0 1197.8 L 2460.0 958.4" fill="none" stroke="#000" stroke-width="2.6"  stroke-linejoin="round" stroke-linecap="round"/>
<path d="M 2040.0 1222.8 L 2460.0 983.4" fill="none" stroke="#000" stroke-width="2.6"  stroke-linejoin="round" stroke-linecap="round"/>
<path d="M 2040.0 1247.8 L 2460.0 1008.4" fill="none" stroke="#000" stroke-width="2.6"  stroke-linejoin="round" stroke-linecap="round"/>
<path d="M 2040.0 1272.8 L 2460.0 1033.4" fill="none" stroke="#000" stroke-width="2.6"  stroke-linejoin="round" stroke-linecap="round"/>
<path d="M 2040.0 1297.8 L 2460.0 1058.4" fill="none" stroke="#000" stroke-width="2.6"  stroke-linejoin="round" stroke-linecap="round"/>
<path d="M 2040.0 1322.8 L 2460.0 1083.4" fill="none" stroke="#000" stroke-width="2.6"  stroke-linejoin="round" stroke-linecap="round"/>
<path d="M 2040.0 1347.8 L 2460.0 1108.4" fill="none" stroke="#000" stroke-width="2.6"  stroke-linejoin="round" stroke-linecap="round"/>
<path d="M 2040.0 1372.8 L 2460.0 1133.4" fill="none" stroke="#000" stroke-width="2.6"  stroke-linejoin="round" stroke-linecap="round"/>
<path d="M 2040.0 1397.8 L 2460.0 1158.4" fill="none" stroke="#000" stroke-width="2.6"  stroke-linejoin="round" stroke-linecap="round"/>
<path d="M 2040.0 1422.8 L 2460.0 1183.4" fill="none" stroke="#000" stroke-width="2.6"  stroke-linejoin="round" stroke-linecap="round"/>
<path d="M 2040.0 1447.8 L 2460.0 1208.4" fill="none" stroke="#000" stroke-width="2.6"  stroke-linejoin="round" stroke-linecap="round"/>
<path d="M 1900.0 1040.0 L 2019.1 760.0" fill="none" stroke="#000" stroke-width="2.6"  stroke-linejoin="round" stroke-linecap="round"/>
<path d="M 1928.5 1040.0 L 2047.6 760.0" fill="none" stroke="#000" stroke-width="2.6"  stroke-linejoin="round" stroke-linecap="round"/>
<path d="M 1957.0 1040.0 L 2076.1 760.0" fill="none" stroke="#000" stroke-width="2.6"  stroke-linejoin="round" stroke-linecap="round"/>
<path d="M 1985.5 1040.0 L 2104.6 760.0" fill="none" stroke="#000" stroke-width="2.6"  stroke-linejoin="round" stroke-linecap="round"/>
<path d="M 2014.0 1040.0 L 2133.1 760.0" fill="none" stroke="#000" stroke-width="2.6"  stroke-linejoin="round" stroke-linecap="round"/>
<path d="M 2042.5 1040.0 L 2161.6 760.0" fill="none" stroke="#000" stroke-width="2.6"  stroke-linejoin="round" stroke-linecap="round"/>
<path d="M 2071.0 1040.0 L 2190.1 760.0" fill="none" stroke="#000" stroke-width="2.6"  stroke-linejoin="round" stroke-linecap="round"/>
<path d="M 2099.5 1040.0 L 2218.6 760.0" fill="none" stroke="#000" stroke-width="2.6"  stroke-linejoin="round" stroke-linecap="round"/>
<path d="M 2128.0 1040.0 L 2247.1 760.0" fill="none" stroke="#000" stroke-width="2.6"  stroke-linejoin="round" stroke-linecap="round"/>
<path d="M 2156.5 1040.0 L 2275.6 760.0" fill="none" stroke="#000" stroke-width="2.6"  stroke-linejoin="round" stroke-linecap="round"/>
<path d="M 2185.0 1040.0 L 2304.1 760.0" fill="none" stroke="#000" stroke-width="2.6"  stroke-linejoin="round" stroke-linecap="round"/>
<path d="M 2213.5 1040.0 L 2332.6 760.0" fill="none" stroke="#000" stroke-width="2.6"  stroke-linejoin="round" stroke-linecap="round"/>
<path d="M 2242.0 1040.0 L 2361.1 760.0" fill="none" stroke="#000" stroke-width="2.6"  stroke-linejoin="round" stroke-linecap="round"/>
<path d="M 2270.5 1040.0 L 2389.6 760.0" fill="none" stroke="#000" stroke-width="2.6"  stroke-linejoin="round" stroke-linecap="round"/>
<path d="M 2299.0 1040.0 L 2418.1 760.0" fill="none" stroke="#000" stroke-width="2.6"  stroke-linejoin="round" stroke-linecap="round"/>
<path d="M 2327.5 1040.0 L 2446.6 760.0" fill="none" stroke="#000" stroke-width="2.6"  stroke-linejoin="round" stroke-linecap="round"/>
<path d="M 2356.0 1040.0 L 2475.1 760.0" fill="none" stroke="#000" stroke-width="2.6"  stroke-linejoin="round" stroke-linecap="round"/>
<path d="M 2384.5 1040.0 L 2503.6 760.0" fill="none" stroke="#000" stroke-width="2.6"  stroke-linejoin="round" stroke-linecap="round"/>
<path d="M 2413.0 1040.0 L 2532.1 760.0" fill="none" stroke="#000" stroke-width="2.6"  stroke-linejoin="round" stroke-linecap="round"/>
<path d="M 2441.5 1040.0 L 2560.6 760.0" fill="none" stroke="#000" stroke-width="2.6"  stroke-linejoin="round" stroke-linecap="round"/>
<path d="M 2470.0 1040.0 L 2589.1 760.0" fill="none" stroke="#000" stroke-width="2.6"  stroke-linejoin="round" stroke-linecap="round"/>
<path d="M 2498.5 1040.0 L 2617.6 760.0" fill="none" stroke="#000" stroke-width="2.6"  stroke-linejoin="round" stroke-linecap="round"/>
<path d="M 2527.0 1040.0 L 2646.1 760.0" fill="none" stroke="#000" stroke-width="2.6"  stroke-linejoin="round" stroke-linecap="round"/>
<path d="M 2555.5 1040.0 L 2674.6 760.0" fill="none" stroke="#000" stroke-width="2.6"  stroke-linejoin="round" stroke-linecap="round"/>
<path d="M 2584.0 1040.0 L 2703.1 760.0" fill="none" stroke="#000" stroke-width="2.6"  stroke-linejoin="round" stroke-linecap="round"/>
<path d="M 2612.5 1040.0 L 2731.6 760.0" fill="none" stroke="#000" stroke-width="2.6"  stroke-linejoin="round" stroke-linecap="round"/>
</g>
<path d="M 2090.0 755.0 C 2060.0 770.0 2048.0 785.0 2045.0 797.0 C 2035.0 830.0 2040.0 880.0 2055.0 912.0 C 2070.0 945.0 2100.0 980.0 2125.0 1002.0 L 2160.0 1032.0 C 2165.0 1035.0 2168.0 1030.0 2170.0 1025.0 C 2175.0 1000.0 2178.0 980.0 2172.0 962.0 C 2150.0 945.0 2110.0 905.0 2090.0 870.0 C 2078.0 845.0 2072.0 815.0 2080.0 782.0 Z" fill="#bcbec0" stroke="#000" stroke-width="5"  stroke-linejoin="round" stroke-linecap="round"/>
<path d="M 2185.0 972.0 L 2185.0 1030.0 C 2210.0 1020.0 2280.0 990.0 2325.0 970.0 C 2360.0 950.0 2395.0 920.0 2426.0 890.0 C 2450.0 860.0 2458.0 800.0 2456.0 770.0 C 2452.0 750.0 2440.0 738.0 2407.0 727.0 C 2410.0 760.0 2415.0 790.0 2412.0 800.0 C 2405.0 840.0 2390.0 860.0 2362.0 882.0 C 2330.0 910.0 2280.0 930.0 2225.0 952.0 C 2200.0 962.0 2190.0 965.0 2185.0 972.0 Z" fill="#bcbec0" stroke="#000" stroke-width="5"  stroke-linejoin="round" stroke-linecap="round"/>
<path d="M 2062.0 800.0 C 2055.0 840.0 2062.0 890.0 2080.0 920.0 C 2100.0 955.0 2130.0 985.0 2155.0 1005.0 L 2162.0 1015.0 C 2165.0 1000.0 2165.0 985.0 2162.0 975.0" fill="none" stroke="#000" stroke-width="1.5" stroke-dasharray="6 4" stroke-linejoin="round" stroke-linecap="round"/>
<path d="M 2195.0 1015.0 C 2250.0 995.0 2310.0 965.0 2360.0 930.0 C 2400.0 900.0 2430.0 860.0 2440.0 820.0 C 2443.0 790.0 2440.0 760.0 2430.0 745.0" fill="none" stroke="#000" stroke-width="1.5" stroke-dasharray="6 4" stroke-linejoin="round" stroke-linecap="round"/>
<path d="M 2100.0 770.0 C 2200.0 752.0 2300.0 745.0 2400.0 745.0" fill="none" stroke="#000" stroke-width="1.5" stroke-dasharray="6 4" stroke-linejoin="round" stroke-linecap="round"/>
<text transform="translate(2072 900) rotate(38)" font-family="Liberation Sans, sans-serif" font-weight="bold" font-size="26" fill="#333">RTECH</text>
<text transform="translate(2238 975) rotate(-28)" font-family="Liberation Sans, sans-serif" font-weight="bold" font-size="28" fill="#333">RTECH</text>
<path d="M 1962.8 839.6 C 1954.8 838.3 1925.6 850.9 1899.5 859.1 C 1873.4 867.4 1829.6 881.6 1806.3 888.9 C 1783.0 896.2 1772.2 897.9 1759.7 902.9 C 1747.3 907.9 1740.2 912.4 1731.8 918.8 C 1723.4 925.1 1715.6 932.7 1709.4 941.1 C 1703.2 949.5 1698.9 959.4 1694.5 969.1 C 1690.2 978.7 1687.4 984.9 1683.4 998.9 C 1679.3 1012.8 1675.3 1033.0 1670.3 1052.9 C 1665.3 1072.8 1658.1 1100.0 1653.5 1118.1 C 1648.9 1136.3 1643.3 1153.5 1642.7 1161.9 C 1642.1 1170.3 1645.8 1167.4 1649.8 1168.8 C 1653.8 1170.2 1659.1 1171.3 1666.6 1170.3 C 1674.0 1169.3 1685.2 1166.6 1694.5 1162.8 C 1703.8 1159.1 1714.4 1154.8 1722.5 1147.9 C 1730.5 1141.1 1737.4 1131.5 1743.0 1121.8 C 1748.6 1112.2 1753.5 1101.7 1756.0 1090.2 C 1758.5 1078.7 1757.1 1063.8 1757.9 1052.9 C 1758.7 1042.0 1758.5 1033.0 1760.7 1025.0 C 1762.9 1016.9 1766.4 1011.3 1770.9 1004.5 C 1775.4 997.6 1778.7 992.3 1787.7 984.0 C 1796.7 975.6 1812.5 962.9 1825.0 954.2 C 1837.4 945.5 1849.8 938.9 1862.2 931.8 C 1874.6 924.7 1888.6 918.1 1899.5 911.3 C 1910.3 904.5 1919.4 898.3 1927.4 890.8 C 1935.5 883.4 1942.0 875.1 1947.9 866.6 C 1953.8 858.0 1970.9 840.8 1962.8 839.6 Z" fill="#3d2ea0" stroke="#000" stroke-width="5"  stroke-linejoin="round" stroke-linecap="round"/>
<path d="M 1910.7 859.5 C 1893.3 864.5 1831.5 882.0 1806.3 889.3 C 1781.2 896.6 1772.2 898.3 1759.7 903.3 C 1747.3 908.3 1740.2 912.8 1731.8 919.1 C 1723.4 925.5 1715.6 933.1 1709.4 941.5 C 1703.2 949.9 1698.9 959.8 1694.5 969.4 C 1690.2 979.1 1687.4 985.3 1683.4 999.2 C 1679.3 1013.2 1675.2 1033.3 1670.3 1053.3 C 1665.4 1073.3 1656.6 1108.1 1653.9 1119.0 1657.6 1118.9 1669.1 1119.2 1675.9 1118.1 C 1682.7 1117.0 1688.9 1116.3 1694.5 1112.5 C 1700.1 1108.8 1705.7 1102.6 1709.4 1095.8 C 1713.2 1088.9 1715.6 1081.8 1716.9 1071.5 C 1718.2 1061.3 1717.2 1046.7 1717.3 1034.3 C 1717.3 1021.8 1716.6 1007.9 1717.3 997.0 C 1717.9 986.1 1717.9 978.0 1721.0 969.1 C 1724.1 960.1 1727.9 950.8 1735.9 943.3 C 1743.9 935.9 1757.3 930.0 1769.1 924.3 C 1780.8 918.7 1792.3 914.4 1806.3 909.4 C 1820.3 904.5 1840.5 899.8 1852.9 894.5 C 1865.3 889.3 1871.2 883.6 1880.9 877.8 C 1890.5 871.9 1905.7 862.5 1910.7 859.5 Z" fill="#e1330f" stroke="#000" stroke-width="5"  stroke-linejoin="round" stroke-linecap="round"/>
<path d="M 1684.3 1003.5 C 1688.9 1017.5 1698.3 1034.3 1703.8 1049.2 C 1705.7 1054.8 1704.8 1058.5 1702.0 1064.1 L 1687.1 1092.0 C 1684.3 1095.8 1680.6 1095.8 1678.7 1092.0 C 1674.0 1080.9 1670.3 1071.5 1668.1 1065.9" fill="none" stroke="#000" stroke-width="4"  stroke-linejoin="round" stroke-linecap="round"/>
<path d="M 1739.2 943.9 L 1750.4 953.2 L 1854.8 908.5 L 1857.6 895.5 M 1767.2 929.9 C 1770.9 943.0 1780.2 961.6 1787.7 974.6 M 1787.7 920.6 C 1791.4 933.7 1797.0 946.7 1802.6 956.9 M 1771.9 927.1 C 1774.6 939.2 1778.4 950.4 1782.1 961.6" fill="none" stroke="#d05050" stroke-width="1.6"  stroke-linejoin="round" stroke-linecap="round"/>
<path d="M 2660.4 830.8 C 2674.2 832.0 2692.7 835.7 2713.2 839.0 C 2733.7 842.4 2767.5 846.9 2783.6 850.8 C 2799.7 854.8 2799.7 854.4 2810.0 862.8 C 2820.3 871.2 2834.9 886.9 2845.2 901.5 C 2855.5 916.2 2862.8 932.3 2871.6 950.8 C 2880.4 969.3 2890.7 994.8 2898.0 1012.4 C 2905.3 1030.0 2920.0 1048.1 2915.6 1056.4 C 2911.2 1064.7 2887.7 1060.6 2871.6 1062.0 C 2855.5 1063.5 2836.4 1066.1 2818.8 1065.2 C 2801.2 1064.3 2780.7 1060.8 2766.0 1056.4 C 2751.3 1052.0 2739.6 1046.1 2730.8 1038.8 C 2722.0 1031.5 2716.4 1021.2 2713.2 1012.4 C 2710.0 1003.6 2711.2 994.8 2711.8 986.0 C 2712.4 977.2 2717.1 968.4 2716.7 959.6 C 2716.4 950.8 2714.4 940.5 2709.7 933.2 C 2705.0 925.9 2696.8 919.9 2688.6 915.6 C 2680.3 911.2 2671.0 909.4 2660.4 907.1 C 2649.8 904.9 2634.6 904.6 2625.2 901.9 C 2615.8 899.2 2608.3 896.0 2604.1 891.0 C 2599.9 885.9 2599.6 878.6 2600.2 871.6 C 2600.8 864.6 2602.5 855.4 2607.6 848.7 C 2612.7 842.0 2621.7 834.5 2630.5 831.5 C 2639.3 828.5 2646.6 829.5 2660.4 830.8 Z" fill="#3d2ea0" stroke="#000" stroke-width="5"  stroke-linejoin="round" stroke-linecap="round"/>
<path d="M 2660.4 832.5 C 2669.2 833.8 2692.7 837.0 2713.2 840.3 C 2733.7 843.6 2767.5 848.3 2783.6 852.2 C 2799.7 856.1 2799.7 855.3 2810.0 863.7 C 2820.3 872.0 2834.9 887.7 2845.2 902.4 C 2855.5 917.1 2862.8 932.8 2871.6 951.7 C 2880.4 970.5 2893.6 1004.9 2898.0 1015.6 C 2893.6 1014.5 2881.9 1010.0 2871.6 1008.9 C 2861.3 1007.8 2851.1 1009.5 2836.4 1008.9 C 2821.7 1008.3 2795.6 1007.7 2783.6 1005.4 C 2771.6 1003.0 2768.6 999.5 2764.2 994.8 C 2759.8 990.1 2757.5 984.5 2757.2 977.2 C 2756.9 969.9 2759.5 961.1 2762.5 950.8 C 2765.4 940.5 2771.0 927.3 2774.8 915.6 C 2778.6 903.9 2786.8 888.6 2785.4 880.4 C 2783.9 872.2 2778.0 870.4 2766.0 866.3 C 2754.0 862.3 2731.4 858.7 2713.2 856.1 C 2695.0 853.5 2667.6 852.6 2656.9 850.8 C 2646.2 849.0 2649.7 847.6 2649.0 845.2 C 2648.2 842.8 2651.9 837.9 2652.5 836.4 Z" fill="#e1330f" stroke="#000" stroke-width="5"  stroke-linejoin="round" stroke-linecap="round"/>
<path d="M 2785.4 879.0 C 2790.6 873.4 2797.7 869.8 2810.0 866.7" fill="none" stroke="#000" stroke-width="5"  stroke-linejoin="round" stroke-linecap="round"/>
<path d="M 2784.5 954.3 C 2783.6 949.0 2785.4 945.5 2790.6 942.9 L 2847.0 913.0 C 2852.2 911.2 2855.8 913.0 2857.5 915.6 L 2871.6 954.3 L 2806.5 986.0 C 2801.2 987.8 2797.7 986.0 2795.9 982.5 Z" fill="#e1330f" stroke="#000" stroke-width="5"  stroke-linejoin="round" stroke-linecap="round"/>
<text transform="translate(2799.4 969.3) rotate(-27)" font-family="Liberation Sans, sans-serif" font-weight="bold" font-style="italic" font-size="26" fill="#111">RTEC</text>
<path d="M 2658.6 854.0 L 2665.7 868.1 L 2755.4 883.9 L 2762.5 869.8 M 2665.7 878.6 L 2704.4 852.2 M 2695.6 891.0 L 2741.4 859.3" fill="none" stroke="#d05060" stroke-width="1.6"  stroke-linejoin="round" stroke-linecap="round"/>
<path d="M 1717.2 671.5 C 1728.2 671.3 1736.5 672.8 1745.3 674.8 C 1754.1 676.9 1762.7 681.2 1770.2 684.0 C 1777.6 686.7 1787.2 689.1 1790.0 691.4 C 1792.9 693.8 1787.0 695.4 1787.1 698.0 C 1787.1 700.7 1787.7 703.3 1790.4 707.1 C 1793.1 711.0 1798.4 715.0 1803.3 721.2 C 1808.2 727.4 1816.0 737.0 1819.9 744.4 C 1823.7 751.9 1825.9 758.5 1826.5 765.9 C 1827.0 773.4 1825.1 783.6 1823.2 789.1 C 1821.2 794.6 1818.2 794.9 1814.9 799.1 C 1811.6 803.2 1807.2 808.5 1803.3 814.0 C 1799.4 819.5 1795.8 828.2 1791.7 832.2 C 1787.6 836.2 1786.2 835.2 1778.4 838.0 C 1770.7 840.8 1756.4 843.4 1745.3 848.8 C 1734.3 854.1 1723.2 862.0 1712.2 870.3 C 1701.1 878.6 1690.1 889.6 1679.1 898.4 C 1668.0 907.3 1657.0 915.3 1645.9 923.3 C 1634.9 931.3 1623.9 945.1 1612.8 946.5 C 1601.8 947.9 1589.3 936.3 1579.7 931.6 C 1570.0 926.9 1560.1 922.5 1554.8 918.3 C 1549.6 914.2 1549.0 912.8 1548.2 906.7 C 1547.4 900.7 1548.2 891.5 1549.9 881.9 C 1551.5 872.2 1554.8 861.2 1558.2 848.8 C 1561.5 836.3 1564.8 821.1 1569.8 807.3 C 1574.7 793.6 1580.8 779.7 1588.0 765.9 C 1595.1 752.1 1603.2 737.0 1612.8 724.5 C 1622.5 712.1 1634.9 699.4 1645.9 691.4 C 1657.0 683.4 1667.2 679.8 1679.1 676.5 C 1690.9 673.2 1706.1 671.8 1717.2 671.5 Z" fill="#8dc63f" stroke="#231f20" stroke-width="4.2"  stroke-linejoin="round" stroke-linecap="round"/>
<path d="M 1793.4 823.9 C 1788.1 825.0 1772.7 826.9 1761.9 830.5 C 1751.1 834.1 1739.8 838.3 1728.8 845.4 C 1717.7 852.6 1706.7 864.2 1695.6 873.6 C 1684.6 883.0 1673.6 892.7 1662.5 901.8 C 1651.5 910.9 1637.7 921.2 1629.4 928.3 C 1621.1 935.3 1615.6 941.4 1612.8 944.0" fill="none" stroke="#231f20" stroke-width="2.6"  stroke-linejoin="round" stroke-linecap="round"/>
<path d="M 1670.8 684.8 C 1679.1 680.4 1686.0 677.9 1695.6 678.2 C 1705.3 678.4 1719.9 682.3 1728.8 686.4 C 1737.6 690.6 1744.9 698.0 1748.6 703.0 C 1752.4 708.0 1758.9 709.1 1751.1 716.3 C 1743.4 723.4 1718.1 736.7 1702.3 746.1 C 1686.4 755.5 1665.5 769.3 1655.9 772.6 C 1646.2 775.9 1647.3 772.0 1644.3 765.9 C 1641.3 759.9 1637.4 746.3 1637.7 736.1 C 1637.9 725.9 1640.4 713.2 1645.9 704.7 C 1651.5 696.1 1662.5 689.2 1670.8 684.8 Z" fill="none" stroke="#231f20" stroke-width="2.6"  stroke-linejoin="round" stroke-linecap="round"/>
<path d="M 1644.3 727.8 C 1659.2 729.5 1675.8 742.8 1685.7 757.7 M 1645.9 717.9 C 1662.5 719.6 1682.4 732.8 1695.6 751.9 M 1646.8 710.5 C 1665.8 711.3 1689.0 726.2 1703.1 746.9 M 1675.8 682.3 C 1695.6 688.1 1720.5 703.0 1742.0 723.7 M 1689.0 678.2 C 1708.9 684.8 1733.7 698.0 1751.1 717.9" fill="none" stroke="#231f20" stroke-width="2.6"  stroke-linejoin="round" stroke-linecap="round"/>
<path d="M 1750.3 716.3 C 1728.8 742.8 1703.9 779.2 1679.1 815.6 C 1659.2 845.4 1637.7 873.6 1612.8 896.8" fill="none" stroke="#231f20" stroke-width="2.6"  stroke-linejoin="round" stroke-linecap="round"/>
<path d="M 1612.8 800.7 C 1617.8 801.6 1625.5 802.1 1629.4 807.3 C 1633.2 812.6 1636.0 822.5 1636.0 832.2 C 1636.0 841.9 1633.2 854.8 1629.4 865.3 C 1625.5 875.8 1618.3 887.7 1612.8 895.1 C 1607.3 902.6 1601.8 907.8 1596.3 910.0 C 1590.7 912.2 1585.2 911.7 1579.7 908.4 C 1574.2 905.1 1567.0 897.3 1563.1 890.2 C 1559.3 883.0 1556.8 873.6 1556.5 865.3 C 1556.2 857.0 1557.6 848.8 1561.5 840.5 C 1565.3 832.2 1573.3 822.0 1579.7 815.6 C 1586.0 809.3 1594.0 804.9 1599.6 802.4 C 1605.1 799.9 1607.8 799.9 1612.8 800.7 Z" fill="none" stroke="#231f20" stroke-width="2.6"  stroke-linejoin="round" stroke-linecap="round"/>
<path d="M 1599.6 809.0 C 1602.9 818.9 1616.1 827.2 1636.0 830.5 M 1594.6 815.6 C 1599.6 827.2 1612.8 833.9 1633.5 836.3 M 1563.1 843.8 C 1568.1 858.7 1588.0 868.6 1622.8 870.3 M 1564.8 853.7 C 1571.4 868.6 1589.6 878.6 1620.3 880.2 M 1559.8 871.9 C 1568.1 885.2 1589.6 890.2 1616.1 891.0" fill="none" stroke="#231f20" stroke-width="2.6"  stroke-linejoin="round" stroke-linecap="round"/>
<circle cx="1675.8" cy="703.8" r="6.6" fill="none" stroke="#231f20" stroke-width="2.2"/>
<circle cx="1706.4" cy="727.8" r="6.6" fill="none" stroke="#231f20" stroke-width="2.2"/>
<circle cx="1623.6" cy="755.2" r="6.6" fill="none" stroke="#231f20" stroke-width="2.2"/>
<circle cx="1672.4" cy="782.5" r="6.6" fill="none" stroke="#231f20" stroke-width="2.2"/>
<circle cx="1598.7" cy="791.6" r="6.6" fill="none" stroke="#231f20" stroke-width="2.2"/>
<circle cx="1652.6" cy="818.9" r="6.6" fill="none" stroke="#231f20" stroke-width="2.2"/>
<circle cx="1589.6" cy="831.4" r="6.6" fill="none" stroke="#231f20" stroke-width="2.2"/>
<circle cx="1614.5" cy="846.3" r="6.6" fill="none" stroke="#231f20" stroke-width="2.2"/>
<path d="M 2759.7 645.6 C 2763.3 642.8 2772.1 639.7 2784.5 636.5 C 2797.0 633.3 2819.0 627.4 2834.2 626.6 C 2849.4 625.7 2863.2 627.9 2875.6 631.5 C 2888.1 635.1 2897.7 639.8 2908.8 648.1 C 2919.8 656.4 2932.2 668.3 2941.9 681.2 C 2951.5 694.2 2959.8 710.2 2966.7 725.9 C 2973.6 741.7 2978.6 759.1 2983.3 775.6 C 2988.0 792.2 2992.1 811.5 2994.9 825.3 C 2997.7 839.1 2999.9 849.6 2999.9 858.4 C 2999.9 867.3 2999.0 873.4 2994.9 878.3 C 2990.7 883.3 2984.4 883.8 2975.0 888.3 C 2965.6 892.7 2948.2 902.9 2938.6 904.8 C 2928.9 906.8 2924.8 904.8 2917.0 899.9 C 2909.3 894.9 2901.9 886.1 2892.2 875.0 C 2882.5 864.0 2870.1 845.5 2859.1 833.6 C 2848.0 821.7 2837.0 810.7 2825.9 803.8 C 2814.9 796.9 2803.9 795.5 2792.8 792.2 C 2781.8 788.9 2769.3 790.8 2759.7 783.9 C 2750.0 777.0 2740.9 761.8 2734.8 750.8 C 2728.8 739.7 2724.1 728.7 2723.3 717.7 C 2722.4 706.6 2726.6 692.3 2729.9 684.5 C 2733.2 676.8 2738.2 674.9 2743.1 671.3 C 2748.1 667.7 2756.4 666.0 2759.7 663.0 C 2763.0 660.0 2763.0 656.3 2763.0 653.4 C 2763.0 650.5 2756.1 648.4 2759.7 645.6 Z" fill="#8dc63f" stroke="#231f20" stroke-width="4.2"  stroke-linejoin="round" stroke-linecap="round"/>
<path d="M 2756.4 778.9 C 2762.5 780.3 2781.2 783.4 2792.8 787.2 C 2804.4 791.1 2813.5 793.0 2825.9 802.1 C 2838.4 811.2 2854.9 828.9 2867.3 841.9 C 2879.8 854.9 2890.8 870.3 2900.5 880.0 C 2910.1 889.6 2921.2 896.5 2925.3 899.9" fill="none" stroke="#231f20" stroke-width="2.6"  stroke-linejoin="round" stroke-linecap="round"/>
<path d="M 2802.8 663.0 C 2805.8 658.9 2806.1 655.5 2817.7 651.4 C 2829.3 647.3 2859.1 638.4 2872.3 638.2 C 2885.6 637.9 2891.1 642.0 2897.2 649.8 C 2903.2 657.5 2906.8 674.6 2908.8 684.5 C 2910.7 694.5 2910.7 702.2 2908.8 709.4 C 2906.8 716.6 2901.3 724.8 2897.2 727.6 C 2893.0 730.4 2891.6 729.3 2883.9 725.9 C 2876.2 722.6 2860.4 712.7 2850.8 707.7 C 2841.1 702.8 2834.5 701.4 2825.9 696.1 C 2817.4 690.9 2803.3 681.8 2799.4 676.3 C 2795.6 670.7 2799.7 667.1 2802.8 663.0 Z" fill="none" stroke="#231f20" stroke-width="2.6"  stroke-linejoin="round" stroke-linecap="round"/>
<path d="M 2806.1 676.3 C 2816.0 659.7 2825.9 643.1 2840.8 631.5 M 2812.7 679.6 C 2825.9 663.0 2839.2 646.4 2860.7 634.8 M 2845.8 699.4 C 2854.1 684.5 2875.6 669.6 2900.5 664.7 M 2855.8 706.1 C 2864.0 691.2 2882.3 677.9 2903.8 672.9 M 2865.7 709.4 C 2874.0 696.1 2887.2 684.5 2905.4 681.2" fill="none" stroke="#231f20" stroke-width="2.6"  stroke-linejoin="round" stroke-linecap="round"/>
<path d="M 2801.1 677.9 C 2825.9 709.4 2859.1 759.1 2892.2 805.4 C 2908.8 828.6 2922.0 841.9 2931.9 848.5 M 2897.2 649.8 C 2925.3 684.5 2958.4 742.5 2983.3 792.2" fill="none" stroke="#231f20" stroke-width="2.6"  stroke-linejoin="round" stroke-linecap="round"/>
<path d="M 2925.3 754.1 C 2930.6 754.4 2939.7 754.4 2948.5 760.7 C 2957.3 767.1 2971.7 782.8 2978.3 792.2 C 2984.9 801.6 2986.1 807.4 2988.3 817.0 C 2990.5 826.7 2993.8 841.6 2991.6 850.2 C 2989.4 858.7 2980.5 864.8 2975.0 868.4 C 2969.5 872.0 2964.0 873.4 2958.4 871.7 C 2952.9 870.0 2947.4 866.2 2941.9 858.4 C 2936.4 850.7 2930.0 837.7 2925.3 825.3 C 2920.6 812.9 2915.1 795.0 2913.7 783.9 C 2912.4 772.9 2915.1 764.0 2917.0 759.1 C 2919.0 754.1 2920.1 753.8 2925.3 754.1 Z" fill="none" stroke="#231f20" stroke-width="2.6"  stroke-linejoin="round" stroke-linecap="round"/>
<path d="M 2915.4 785.6 C 2925.3 783.9 2941.9 777.3 2953.5 765.7 M 2917.0 792.2 C 2928.6 790.5 2945.2 783.9 2961.8 774.0 M 2933.6 822.0 C 2950.2 823.7 2975.0 815.4 2986.6 800.5 M 2931.9 830.3 C 2951.8 831.9 2976.7 825.3 2989.9 817.0 M 2931.9 845.2 C 2951.8 845.2 2978.3 838.6 2991.6 830.3" fill="none" stroke="#231f20" stroke-width="2.6"  stroke-linejoin="round" stroke-linecap="round"/>
<circle cx="2873.1" cy="658.0" r="6.6" fill="none" stroke="#231f20" stroke-width="2.2"/>
<circle cx="2841.7" cy="682.0" r="6.6" fill="none" stroke="#231f20" stroke-width="2.2"/>
<circle cx="2925.3" cy="709.4" r="6.6" fill="none" stroke="#231f20" stroke-width="2.2"/>
<circle cx="2875.6" cy="736.7" r="6.6" fill="none" stroke="#231f20" stroke-width="2.2"/>
<circle cx="2950.2" cy="745.8" r="6.6" fill="none" stroke="#231f20" stroke-width="2.2"/>
<circle cx="2895.5" cy="773.1" r="6.6" fill="none" stroke="#231f20" stroke-width="2.2"/>
<circle cx="2958.4" cy="786.4" r="6.6" fill="none" stroke="#231f20" stroke-width="2.2"/>
<circle cx="2934.4" cy="801.3" r="6.6" fill="none" stroke="#231f20" stroke-width="2.2"/>
<path d="M 1815.0 796.0 L 1852.0 870.0 M 1609.0 948.0 L 1660.0 1077.0" fill="none" stroke="#000" stroke-width="3"  stroke-linejoin="round" stroke-linecap="round"/>
<path d="M 2730.0 751.0 L 2696.0 835.0 M 2939.0 905.0 L 2899.0 1015.0" fill="none" stroke="#000" stroke-width="3"  stroke-linejoin="round" stroke-linecap="round"/>
<path d="M 2687.0 1986.0 C 2706.2 1985.2 2727.8 1987.7 2745.0 1995.0 C 2762.2 2002.3 2779.8 2014.0 2790.0 2030.0 C 2800.2 2046.0 2803.3 2068.3 2806.0 2091.0 C 2808.7 2113.7 2809.3 2136.8 2806.0 2166.0 C 2802.7 2195.2 2796.0 2227.7 2786.0 2266.0 C 2776.0 2304.3 2756.0 2366.2 2746.0 2396.0 C 2736.0 2425.8 2733.7 2432.7 2726.0 2445.0 C 2718.3 2457.3 2709.3 2465.0 2700.0 2470.0 C 2690.7 2475.0 2680.0 2477.5 2670.0 2475.0 C 2660.0 2472.5 2648.3 2464.2 2640.0 2455.0 C 2631.7 2445.8 2629.0 2451.5 2620.0 2420.0 C 2611.0 2388.5 2594.2 2308.3 2586.0 2266.0 C 2577.8 2223.7 2573.2 2192.7 2571.0 2166.0 C 2568.8 2139.3 2569.8 2127.0 2573.0 2106.0 C 2576.2 2085.0 2580.5 2057.7 2590.0 2040.0 C 2599.5 2022.3 2613.8 2009.0 2630.0 2000.0 C 2646.2 1991.0 2667.8 1986.8 2687.0 1986.0 Z" fill="#fff200" stroke="#6b6b58" stroke-width="4"  stroke-linejoin="round" stroke-linecap="round"/>
<path d="M 2687.0 1999.0 C 2695.8 2000.5 2724.5 2001.2 2740.0 2008.0 C 2755.5 2014.8 2770.5 2025.5 2780.0 2040.0 C 2789.5 2054.5 2794.2 2074.0 2797.0 2095.0 C 2799.8 2116.0 2800.3 2137.5 2797.0 2166.0 C 2793.7 2194.5 2786.5 2228.7 2777.0 2266.0 C 2767.5 2303.3 2749.8 2361.0 2740.0 2390.0 C 2730.2 2419.0 2726.3 2428.0 2718.0 2440.0 C 2709.7 2452.0 2694.7 2458.3 2690.0 2462.0" fill="none" stroke="#6b6b58" stroke-width="1.5"  stroke-linejoin="round" stroke-linecap="round"/>
<path d="M 2622.5 2137.5 C 2624.7 2131.7 2628.3 2121.2 2635.0 2115.0 C 2641.7 2108.8 2653.3 2103.3 2662.5 2100.0 C 2671.7 2096.7 2680.4 2095.6 2690.0 2095.0 C 2699.6 2094.4 2711.2 2094.6 2720.0 2096.2 C 2728.8 2097.9 2736.2 2101.1 2742.5 2105.0 C 2748.8 2108.9 2753.9 2114.6 2757.5 2120.0 C 2761.1 2125.4 2762.9 2130.4 2763.8 2137.5 C 2764.6 2144.6 2763.6 2152.1 2762.5 2162.5 C 2761.4 2172.9 2760.4 2183.3 2757.5 2200.0 C 2754.6 2216.7 2749.2 2241.7 2745.0 2262.5 C 2740.8 2283.3 2737.9 2308.3 2732.5 2325.0 C 2727.1 2341.7 2719.2 2353.6 2712.5 2362.5 C 2705.8 2371.4 2698.8 2376.7 2692.5 2378.8 C 2686.2 2380.8 2680.4 2379.8 2675.0 2375.0 C 2669.6 2370.2 2665.0 2362.5 2660.0 2350.0 C 2655.0 2337.5 2649.6 2318.8 2645.0 2300.0 C 2640.4 2281.2 2635.8 2256.2 2632.5 2237.5 C 2629.2 2218.8 2626.8 2202.1 2625.0 2187.5 C 2623.2 2172.9 2622.4 2158.3 2622.0 2150.0 C 2621.6 2141.7 2620.3 2143.3 2622.5 2137.5 Z" fill="none" stroke="#6b6b58" stroke-width="5.5"  stroke-linejoin="round" stroke-linecap="round"/>
<path d="M 2693.8 2097.5 L 2685.0 2375.0 M 2703.8 2097.5 L 2693.8 2375.0 M 2626.2 2190.0 L 2756.2 2187.5 M 2626.2 2198.8 L 2755.0 2197.5 M 2640.0 2290.0 L 2742.5 2280.0 M 2640.0 2300.0 L 2741.2 2290.0" fill="none" stroke="#6b6b58" stroke-width="5.5"  stroke-linejoin="round" stroke-linecap="round"/>
<path d="M 2693.8 2187.5 L 2703.8 2187.5 L 2702.5 2198.8 L 2692.5 2198.8 Z M 2688.8 2285.0 L 2696.2 2285.0 L 2696.2 2295.0 L 2688.8 2295.0 Z" fill="#fff200" stroke="none" stroke-width="0"  stroke-linejoin="round" stroke-linecap="round"/>
<path d="M 1746.6 3236.6 L 1967.1 3870.2 1971.2 3878.4 1978.4 3907.3 1991.9 3919.9 C 2005.4 3932.5 2029.2 3941.6 2047.8 3946.0 C 2066.5 3950.3 2083.0 3951.1 2103.7 3946.0 C 2124.4 3940.8 2155.0 3927.5 2172.0 3914.9 C 2189.1 3902.3 2198.9 3885.9 2206.2 3870.2 C 2213.5 3854.5 2214.0 3828.8 2215.5 3820.5 L 2184.5 3547.2 L 2128.6 3224.2" fill="none" stroke="#000" stroke-width="4"  stroke-linejoin="round" stroke-linecap="round"/>
<path d="M 1755.9 3258.4 C 1767.3 3257.3 1802.5 3251.4 1824.2 3252.2 C 1846.0 3252.9 1863.5 3255.0 1886.3 3262.7 C 1909.1 3270.5 1940.2 3282.4 1960.9 3298.8 C 1981.6 3315.1 1996.1 3334.0 2010.6 3360.9 C 2025.0 3387.8 2037.5 3427.1 2047.8 3460.2 C 2058.2 3493.4 2068.0 3531.7 2072.7 3559.6 C 2077.3 3587.6 2078.9 3608.3 2075.8 3628.0 C 2072.7 3647.6 2067.0 3664.7 2054.0 3677.6 C 2041.1 3690.6 2017.8 3699.9 1998.1 3705.6 C 1978.4 3711.3 1951.6 3711.8 1936.0 3711.8 C 1920.5 3711.8 1910.1 3706.6 1905.0 3705.6 Z" fill="#bcbec0" stroke="#000" stroke-width="4"  stroke-linejoin="round" stroke-linecap="round"/>
<path d="M 1780.7 3348.4 C 1785.9 3344.8 1800.4 3330.9 1811.8 3326.7 C 1823.2 3322.5 1839.8 3322.0 1849.1 3323.6 C 1858.4 3325.2 1862.5 3329.8 1867.7 3336.0 C 1872.9 3342.2 1873.9 3354.2 1880.1 3360.9 C 1886.3 3367.6 1895.7 3373.6 1905.0 3376.4 C 1914.3 3379.2 1925.7 3374.0 1936.0 3377.6 C 1946.4 3381.2 1958.8 3389.6 1967.1 3398.1 C 1975.3 3406.7 1983.1 3416.8 1985.7 3429.2 C 1988.3 3441.6 1978.4 3462.3 1982.6 3472.7 C 1986.8 3483.0 2002.3 3483.0 2010.6 3491.3 C 2018.8 3499.6 2030.0 3509.9 2032.3 3522.4 C 2034.6 3534.8 2028.7 3554.5 2024.2 3565.8 C 2019.8 3577.2 2007.3 3582.4 2005.6 3590.7 C 2003.9 3598.9 2016.0 3605.7 2013.7 3615.5 C 2011.4 3625.3 1999.5 3645.3 1991.9 3649.7 C 1984.3 3654.0 1975.3 3638.0 1968.3 3641.6 C 1961.3 3645.2 1955.9 3664.9 1949.7 3671.4 C 1943.5 3678.0 1938.5 3684.9 1931.1 3680.7 C 1923.6 3676.6 1913.5 3657.5 1905.0 3646.6 C 1896.5 3635.7 1884.3 3620.7 1880.1 3615.5 Z" fill="#f7941d" stroke="#000" stroke-width="4"  stroke-linejoin="round" stroke-linecap="round"/>
<path d="M 1796.3 3395.0 C 1802.0 3393.0 1817.5 3384.2 1830.4 3382.6 C 1843.4 3381.1 1859.4 3381.1 1873.9 3385.7 C 1888.4 3390.4 1905.0 3400.2 1917.4 3410.6 C 1929.8 3420.9 1939.1 3431.2 1948.4 3447.8 C 1957.8 3464.4 1969.1 3489.3 1973.3 3509.9 C 1977.5 3530.6 1976.4 3556.5 1973.3 3572.0 C 1970.2 3587.6 1965.0 3594.8 1954.7 3603.1 C 1944.3 3611.4 1923.6 3619.7 1911.2 3621.7 C 1898.8 3623.8 1885.3 3616.6 1880.1 3615.5 Z" fill="#231f20" stroke="#000" stroke-width="4"  stroke-linejoin="round" stroke-linecap="round"/>
<path d="M 1833.5 3435.4 C 1855.3 3426.1 1892.5 3423.0 1929.8 3429.2 M 1836.6 3440.4 C 1861.5 3432.3 1898.8 3429.2 1926.7 3434.2 M 1849.1 3516.1 C 1867.7 3541.0 1905.0 3556.5 1936.0 3553.4 C 1954.7 3550.3 1967.1 3541.0 1970.2 3528.6 M 1852.2 3522.4 C 1873.9 3546.0 1908.1 3560.9 1939.1 3558.4" fill="none" stroke="#f7941d" stroke-width="1.6"  stroke-linejoin="round" stroke-linecap="round"/>
<text transform="translate(1808.7 3367.1) rotate(-6)" font-family="Liberation Sans, sans-serif" font-style="italic" font-weight="bold" font-size="14" fill="#231f20">RTECH</text>
<text transform="translate(1998.1 3565.8) rotate(-78)" font-family="Liberation Sans, sans-serif" font-style="italic" font-weight="bold" font-size="14" fill="#231f20">RTECH</text>
<path d="M 2181.4 3550.3 C 2159.6 3609.3 2122.4 3671.4 2047.8 3699.4 C 1998.1 3714.9 1960.9 3721.1 1929.8 3727.3 C 1942.2 3742.9 1967.1 3750.9 2004.3 3750.9 C 2047.8 3749.1 2085.1 3733.5 2106.8 3719.9 C 2078.9 3764.6 2023.0 3820.5 1967.1 3870.2 C 2035.4 3826.7 2103.7 3770.8 2141.0 3721.1 C 2172.0 3671.4 2184.5 3609.3 2185.7 3559.6 Z" fill="#bcbec0" stroke="#000" stroke-width="4"  stroke-linejoin="round" stroke-linecap="round"/>
<path d="M 1970.2 3876.4 C 1979.0 3879.5 2004.8 3891.2 2023.0 3895.0 C 2041.1 3898.9 2060.2 3901.2 2078.9 3899.4 C 2097.5 3897.5 2112.0 3893.9 2134.8 3883.9 C 2157.6 3873.8 2202.0 3846.6 2215.5 3839.1" fill="none" stroke="#000" stroke-width="4"  stroke-linejoin="round" stroke-linecap="round"/>
<path d="M 2358.4 3211.8 L 2582.0 3926.1 C 2592.4 3933.4 2600.6 3957.5 2613.0 3969.6 C 2625.5 3981.7 2644.1 3993.4 2662.7 3998.8 C 2681.4 4004.2 2703.1 4004.7 2724.8 4001.9 C 2746.6 3999.1 2775.6 3993.6 2793.2 3982.0 C 2810.7 3970.4 2823.0 3946.8 2830.4 3932.3 C 2837.9 3917.8 2836.6 3901.2 2837.9 3895.0 C 2836.6 3721.1 2824.2 3534.8 2793.2 3398.1 L 2724.8 3100.0" fill="none" stroke="#000" stroke-width="4"  stroke-linejoin="round" stroke-linecap="round"/>
<path d="M 2442.2 3273.9 C 2445.3 3244.9 2453.1 3225.3 2464.0 3205.6 C 2474.8 3185.9 2489.9 3169.4 2507.5 3155.9 C 2525.0 3142.4 2546.8 3132.6 2569.6 3124.8 C 2592.4 3117.1 2623.4 3111.4 2644.1 3109.3 C 2664.8 3107.3 2680.3 3108.8 2693.8 3112.4 C 2707.3 3116.0 2715.5 3120.7 2724.8 3131.1 C 2734.2 3141.4 2742.4 3148.6 2749.7 3174.5 C 2757.0 3200.4 2761.1 3249.1 2768.3 3286.3 C 2775.6 3323.6 2786.5 3361.9 2793.2 3398.1 C 2799.9 3434.3 2808.7 3475.8 2808.7 3503.7 C 2808.7 3531.7 2802.0 3549.3 2793.2 3565.8 C 2784.3 3582.4 2772.5 3594.1 2755.9 3603.1 C 2739.3 3612.1 2714.5 3617.6 2693.8 3619.9 C 2673.1 3622.2 2655.5 3621.6 2631.7 3616.8 C 2607.9 3611.9 2573.7 3602.3 2550.9 3590.7 C 2528.1 3579.1 2509.5 3566.9 2495.0 3547.2 C 2480.6 3527.5 2472.2 3500.6 2464.0 3472.7 C 2455.7 3444.7 2448.9 3412.6 2445.3 3379.5 C 2441.7 3346.4 2439.1 3302.9 2442.2 3273.9 Z" fill="#bcbec0" stroke="#000" stroke-width="4"  stroke-linejoin="round" stroke-linecap="round"/>
<path d="M 2495.0 3305.0 C 2497.1 3295.7 2496.1 3289.4 2507.5 3280.1 C 2518.8 3270.8 2549.9 3258.4 2563.4 3249.1 C 2576.8 3239.8 2576.8 3232.0 2588.2 3224.2 C 2599.6 3216.5 2619.3 3204.5 2631.7 3202.5 C 2644.1 3200.4 2652.4 3211.8 2662.7 3211.8 C 2673.1 3211.8 2682.4 3200.4 2693.8 3202.5 C 2705.2 3204.5 2721.7 3213.4 2731.1 3224.2 C 2740.4 3235.1 2744.5 3254.2 2749.7 3267.7 C 2754.8 3281.2 2757.0 3291.5 2762.1 3305.0 C 2767.3 3318.4 2778.7 3335.0 2780.7 3348.4 C 2782.8 3361.9 2771.9 3372.2 2774.5 3385.7 C 2777.1 3399.2 2793.2 3415.7 2796.3 3429.2 C 2799.4 3442.7 2799.9 3454.0 2793.2 3466.5 C 2786.5 3478.9 2763.2 3491.3 2755.9 3503.7 C 2748.6 3516.1 2755.9 3529.6 2749.7 3541.0 C 2743.5 3552.4 2731.1 3566.9 2718.6 3572.0 C 2706.2 3577.2 2685.5 3576.2 2675.2 3572.0 C 2664.8 3567.9 2664.8 3549.3 2656.5 3547.2 C 2648.3 3545.2 2637.9 3560.7 2625.5 3559.6 C 2613.0 3558.6 2593.4 3550.3 2582.0 3541.0 C 2570.6 3531.7 2566.5 3514.1 2557.1 3503.7 C 2547.8 3493.4 2535.4 3488.2 2526.1 3478.9 C 2516.8 3469.6 2506.4 3460.2 2501.2 3447.8 C 2496.1 3435.4 2494.0 3416.8 2495.0 3404.3 C 2496.1 3391.9 2507.5 3384.7 2507.5 3373.3 C 2507.5 3361.9 2497.1 3347.4 2495.0 3336.0 C 2493.0 3324.7 2493.0 3314.3 2495.0 3305.0 Z" fill="#f7941d" stroke="#000" stroke-width="4"  stroke-linejoin="round" stroke-linecap="round"/>
<path d="M 2550.9 3336.0 C 2556.6 3318.4 2568.5 3303.4 2582.0 3292.5 C 2595.5 3281.7 2613.0 3274.4 2631.7 3270.8 C 2650.3 3267.2 2675.2 3266.1 2693.8 3270.8 C 2712.4 3275.5 2732.1 3285.8 2743.5 3298.8 C 2754.8 3311.7 2759.0 3327.8 2762.1 3348.4 C 2765.2 3369.1 2764.2 3400.2 2762.1 3423.0 C 2760.1 3445.8 2759.0 3468.0 2749.7 3485.1 C 2740.4 3502.2 2723.8 3518.2 2706.2 3525.5 C 2688.6 3532.7 2662.7 3531.2 2644.1 3528.6 C 2625.5 3526.0 2607.9 3521.3 2594.4 3509.9 C 2580.9 3498.6 2571.1 3478.9 2563.4 3460.2 C 2555.6 3441.6 2549.9 3418.8 2547.8 3398.1 C 2545.8 3377.5 2545.2 3353.6 2550.9 3336.0 Z" fill="#231f20" stroke="#000" stroke-width="4"  stroke-linejoin="round" stroke-linecap="round"/>
<path d="M 2619.3 3329.8 C 2644.1 3320.5 2693.8 3314.3 2731.1 3323.6 M 2620.5 3334.8 C 2650.3 3326.7 2693.8 3321.1 2728.0 3328.6 M 2594.4 3423.0 C 2619.3 3454.0 2656.5 3472.7 2706.2 3472.7 C 2731.1 3471.4 2749.7 3463.4 2755.9 3447.8 M 2597.5 3428.0 C 2625.5 3460.2 2659.6 3477.6 2707.5 3477.6" fill="none" stroke="#f7941d" stroke-width="1.6"  stroke-linejoin="round" stroke-linecap="round"/>
<text transform="translate(2560.2 3466.5) rotate(-80)" font-family="Liberation Sans, sans-serif" font-style="italic" font-weight="bold" font-size="14" fill="#231f20">RTECH</text>
<text transform="translate(2771.4 3354.7) rotate(-80)" font-family="Liberation Sans, sans-serif" font-style="italic" font-weight="bold" font-size="14" fill="#231f20">RTECH</text>
<path d="M 2488.8 3603.1 C 2497.1 3610.4 2519.9 3634.2 2538.5 3646.6 C 2557.1 3659.0 2574.7 3670.4 2600.6 3677.6 C 2626.5 3684.9 2663.8 3690.1 2693.8 3690.1 C 2723.8 3690.1 2758.8 3688.0 2780.7 3677.6 C 2802.7 3667.3 2818.0 3636.2 2825.5 3628.0 L 2829.2 3677.6 2816.0 3684.0 2789.3 3707.6 2768.3 3716.1 C 2747.4 3724.7 2724.8 3727.8 2700.0 3728.6 C 2675.2 3729.4 2644.1 3727.5 2619.3 3721.1 C 2594.4 3714.7 2570.6 3704.5 2550.9 3690.1 C 2531.2 3675.6 2509.5 3643.5 2501.2 3634.2 Z" fill="#bcbec0" stroke="#000" stroke-width="4"  stroke-linejoin="round" stroke-linecap="round"/>
<path d="M 2507.5 3671.4 C 2516.8 3679.7 2542.7 3706.6 2563.4 3721.1 C 2584.0 3735.6 2604.8 3748.0 2631.7 3758.4 C 2658.6 3768.8 2691.7 3779.1 2724.8 3783.2 C 2758.0 3787.4 2812.9 3783.2 2830.4 3783.2 L 2833.5 3839.1 C 2820.6 3838.3 2783.4 3840.2 2755.9 3834.2 C 2728.4 3828.1 2698.0 3815.5 2668.9 3803.1 C 2639.9 3790.7 2607.9 3777.2 2582.0 3759.6 C 2556.1 3742.0 2525.0 3707.9 2513.7 3697.5 Z" fill="#bcbec0" stroke="#000" stroke-width="4"  stroke-linejoin="round" stroke-linecap="round"/>
<path d="M 2594.4 3932.3 C 2603.7 3935.6 2629.6 3947.3 2650.3 3952.2 C 2671.0 3957.0 2698.0 3961.5 2718.6 3961.5 C 2739.3 3961.5 2754.8 3962.2 2774.5 3952.2 C 2794.2 3942.1 2826.3 3909.8 2836.6 3901.2" fill="none" stroke="#000" stroke-width="4"  stroke-linejoin="round" stroke-linecap="round"/>
<path d="M 1692.1 2807.4 C 1700.4 2807.0 1714.9 2810.3 1729.4 2812.4 C 1743.9 2814.4 1764.6 2817.8 1779.1 2819.8 C 1793.6 2821.9 1807.6 2821.9 1816.3 2824.8 C 1825.0 2827.7 1827.9 2833.1 1831.2 2837.2 C 1834.5 2841.4 1827.9 2833.5 1836.2 2849.6 C 1844.5 2865.8 1873.1 2917.5 1880.9 2934.1 C 1888.8 2950.7 1884.2 2939.9 1883.4 2949.0 C 1882.6 2958.1 1880.9 2969.7 1876.0 2988.8 C 1871.0 3007.8 1861.5 3040.5 1853.6 3063.3 C 1845.7 3086.1 1835.8 3104.7 1828.8 3125.4 C 1821.7 3146.1 1815.1 3170.9 1811.4 3187.5 C 1807.6 3204.1 1808.5 3215.3 1806.4 3224.8 C 1804.3 3234.3 1802.7 3240.9 1798.9 3244.7 C 1795.2 3248.5 1789.4 3248.4 1784.0 3247.6 C 1778.6 3246.9 1773.7 3244.4 1766.6 3240.2 C 1759.6 3236.0 1750.1 3231.1 1741.8 3222.3 C 1733.5 3213.5 1725.2 3201.6 1717.0 3187.5 C 1708.7 3173.4 1700.4 3156.5 1692.1 3137.8 C 1683.8 3119.2 1674.3 3094.3 1667.3 3075.7 C 1660.2 3057.1 1653.6 3042.6 1649.9 3026.0 C 1646.1 3009.5 1645.3 2997.0 1644.9 2976.3 C 1644.5 2955.6 1644.9 2922.5 1647.4 2901.8 C 1649.9 2881.1 1654.4 2866.6 1659.8 2852.1 C 1665.2 2837.6 1674.3 2822.3 1679.7 2814.8 C 1685.1 2807.4 1683.8 2807.8 1692.1 2807.4 Z" fill="#15b5c3" stroke="#8f2c74" stroke-width="4"  stroke-linejoin="round" stroke-linecap="round"/>
<path d="M 1679.7 2821.8 C 1688.0 2822.7 1712.8 2824.9 1729.4 2827.3 C 1746.0 2829.6 1765.8 2832.7 1779.1 2836.0 C 1792.3 2839.3 1802.2 2843.0 1808.9 2847.1 C 1815.5 2851.3 1811.8 2846.3 1818.8 2860.8 C 1825.9 2875.3 1844.9 2919.0 1851.1 2934.1 C 1857.3 2949.2 1856.5 2942.4 1856.1 2951.5 C 1855.7 2960.6 1853.6 2972.2 1848.6 2988.8 C 1843.7 3005.3 1832.1 3034.3 1826.3 3050.9 C 1820.5 3067.4 1817.6 3073.7 1813.9 3088.1 C 1810.1 3102.6 1808.1 3119.2 1803.9 3137.8 C 1799.8 3156.5 1792.7 3185.0 1789.0 3199.9 C 1785.4 3214.9 1784.9 3221.8 1782.0 3227.8 C 1779.2 3233.8 1773.8 3234.6 1772.1 3236.0" fill="none" stroke="#8f2c74" stroke-width="4"  stroke-linejoin="round" stroke-linecap="round"/>
<path d="M 1649.9 2906.8 C 1669.8 2924.2 1697.1 2951.5 1698.3 2986.3 C 1697.1 3008.6 1679.7 3033.5 1662.3 3053.4" fill="none" stroke="#5a4f8f" stroke-width="2.2"  stroke-linejoin="round" stroke-linecap="round"/>
<path d="M 1651.1 2914.2 C 1671.0 2931.6 1692.1 2956.5 1693.4 2986.3 C 1692.1 3006.1 1677.2 3028.5 1659.8 3048.4" fill="none" stroke="#5a4f8f" stroke-width="2.2"  stroke-linejoin="round" stroke-linecap="round"/>
<path d="M 1704.5 2869.5 C 1724.4 2909.3 1734.3 2944.0 1734.3 2978.8 C 1734.3 3013.6 1719.4 3063.3 1704.5 3103.0" fill="none" stroke="#5a4f8f" stroke-width="2.2"  stroke-linejoin="round" stroke-linecap="round"/>
<path d="M 1702.0 2884.4 C 1719.4 2919.2 1729.4 2949.0 1729.4 2978.8 C 1729.4 3013.6 1714.5 3058.3 1702.0 3088.1" fill="none" stroke="#5a4f8f" stroke-width="2.2"  stroke-linejoin="round" stroke-linecap="round"/>
<path d="M 1786.5 2877.0 C 1769.1 2909.3 1756.7 2944.0 1756.7 2978.8 C 1756.7 3013.6 1771.6 3063.3 1786.5 3110.5" fill="none" stroke="#5a4f8f" stroke-width="2.2"  stroke-linejoin="round" stroke-linecap="round"/>
<path d="M 1789.0 2891.9 C 1774.1 2919.2 1761.7 2949.0 1761.7 2978.8 C 1761.7 3008.6 1776.6 3053.4 1789.0 3095.6" fill="none" stroke="#5a4f8f" stroke-width="2.2"  stroke-linejoin="round" stroke-linecap="round"/>
<path d="M 1843.7 2924.2 C 1818.8 2944.0 1798.9 2963.9 1798.9 2986.3 C 1798.9 3003.7 1813.9 3028.5 1828.8 3045.9" fill="none" stroke="#5a4f8f" stroke-width="2.2"  stroke-linejoin="round" stroke-linecap="round"/>
<path d="M 1844.9 2929.1 C 1821.3 2949.0 1803.9 2966.4 1803.9 2986.3 C 1803.9 3001.2 1816.3 3023.5 1830.0 3040.9" fill="none" stroke="#5a4f8f" stroke-width="2.2"  stroke-linejoin="round" stroke-linecap="round"/>
<path d="M 2322.1 2805.4 C 2330.4 2805.0 2344.9 2808.3 2359.4 2810.4 C 2373.9 2812.4 2394.6 2815.8 2409.1 2817.8 C 2423.6 2819.9 2437.6 2819.9 2446.3 2822.8 C 2455.0 2825.7 2457.9 2831.1 2461.2 2835.2 C 2464.5 2839.4 2457.9 2831.5 2466.2 2847.6 C 2474.5 2863.8 2503.1 2915.5 2510.9 2932.1 C 2518.8 2948.7 2514.2 2937.9 2513.4 2947.0 C 2512.6 2956.1 2510.9 2967.7 2506.0 2986.8 C 2501.0 3005.8 2491.5 3038.5 2483.6 3061.3 C 2475.7 3084.1 2465.8 3102.7 2458.8 3123.4 C 2451.7 3144.1 2445.1 3168.9 2441.4 3185.5 C 2437.6 3202.1 2438.5 3213.3 2436.4 3222.8 C 2434.3 3232.3 2432.7 3238.9 2428.9 3242.7 C 2425.2 3246.5 2419.4 3246.4 2414.0 3245.6 C 2408.6 3244.9 2403.7 3242.4 2396.6 3238.2 C 2389.6 3234.0 2380.1 3229.1 2371.8 3220.3 C 2363.5 3211.5 2355.2 3199.6 2347.0 3185.5 C 2338.7 3171.4 2330.4 3154.5 2322.1 3135.8 C 2313.8 3117.2 2304.3 3092.3 2297.3 3073.7 C 2290.2 3055.1 2283.6 3040.6 2279.9 3024.0 C 2276.1 3007.5 2275.3 2995.0 2274.9 2974.3 C 2274.5 2953.6 2274.9 2920.5 2277.4 2899.8 C 2279.9 2879.1 2284.4 2864.6 2289.8 2850.1 C 2295.2 2835.6 2304.3 2820.3 2309.7 2812.8 C 2315.1 2805.4 2313.8 2805.8 2322.1 2805.4 Z" fill="#15b5c3" stroke="#8f2c74" stroke-width="4"  stroke-linejoin="round" stroke-linecap="round"/>
<path d="M 2309.7 2819.8 C 2318.0 2820.7 2342.8 2822.9 2359.4 2825.3 C 2376.0 2827.6 2395.8 2830.7 2409.1 2834.0 C 2422.3 2837.3 2432.2 2841.0 2438.9 2845.1 C 2445.5 2849.3 2441.8 2844.3 2448.8 2858.8 C 2455.9 2873.3 2474.9 2917.0 2481.1 2932.1 C 2487.3 2947.2 2486.5 2940.4 2486.1 2949.5 C 2485.7 2958.6 2483.6 2970.2 2478.6 2986.8 C 2473.7 3003.3 2462.1 3032.3 2456.3 3048.9 C 2450.5 3065.4 2447.6 3071.7 2443.9 3086.1 C 2440.1 3100.6 2438.1 3117.2 2433.9 3135.8 C 2429.8 3154.5 2422.7 3183.0 2419.0 3197.9 C 2415.4 3212.9 2414.9 3219.8 2412.0 3225.8 C 2409.2 3231.8 2403.8 3232.6 2402.1 3234.0" fill="none" stroke="#8f2c74" stroke-width="4"  stroke-linejoin="round" stroke-linecap="round"/>
<path d="M 2279.9 2904.8 C 2299.8 2922.2 2327.1 2949.5 2328.3 2984.3 C 2327.1 3006.6 2309.7 3031.5 2292.3 3051.4" fill="none" stroke="#5a4f8f" stroke-width="2.2"  stroke-linejoin="round" stroke-linecap="round"/>
<path d="M 2281.1 2912.2 C 2301.0 2929.6 2322.1 2954.5 2323.4 2984.3 C 2322.1 3004.1 2307.2 3026.5 2289.8 3046.4" fill="none" stroke="#5a4f8f" stroke-width="2.2"  stroke-linejoin="round" stroke-linecap="round"/>
<path d="M 2334.5 2867.5 C 2354.4 2907.3 2364.3 2942.0 2364.3 2976.8 C 2364.3 3011.6 2349.4 3061.3 2334.5 3101.0" fill="none" stroke="#5a4f8f" stroke-width="2.2"  stroke-linejoin="round" stroke-linecap="round"/>
<path d="M 2332.0 2882.4 C 2349.4 2917.2 2359.4 2947.0 2359.4 2976.8 C 2359.4 3011.6 2344.5 3056.3 2332.0 3086.1" fill="none" stroke="#5a4f8f" stroke-width="2.2"  stroke-linejoin="round" stroke-linecap="round"/>
<path d="M 2416.5 2875.0 C 2399.1 2907.3 2386.7 2942.0 2386.7 2976.8 C 2386.7 3011.6 2401.6 3061.3 2416.5 3108.5" fill="none" stroke="#5a4f8f" stroke-width="2.2"  stroke-linejoin="round" stroke-linecap="round"/>
<path d="M 2419.0 2889.9 C 2404.1 2917.2 2391.7 2947.0 2391.7 2976.8 C 2391.7 3006.6 2406.6 3051.4 2419.0 3093.6" fill="none" stroke="#5a4f8f" stroke-width="2.2"  stroke-linejoin="round" stroke-linecap="round"/>
<path d="M 2473.7 2922.2 C 2448.8 2942.0 2428.9 2961.9 2428.9 2984.3 C 2428.9 3001.7 2443.9 3026.5 2458.8 3043.9" fill="none" stroke="#5a4f8f" stroke-width="2.2"  stroke-linejoin="round" stroke-linecap="round"/>
<path d="M 2474.9 2927.1 C 2451.3 2947.0 2433.9 2964.4 2433.9 2984.3 C 2433.9 2999.2 2446.3 3021.5 2460.0 3038.9" fill="none" stroke="#5a4f8f" stroke-width="2.2"  stroke-linejoin="round" stroke-linecap="round"/>
<g transform="translate(1850.0 3102.0) scale(0.240) translate(-610 -560)" filter="url(#blur2)">
<path d="M 645 595 C 780 560 950 560 1075 590 C 960 600 880 650 860 730 C 800 745 720 700 645 595 Z" fill="#4d4d4d"/>
<path d="M 610 655 C 650 800 760 900 840 950 C 870 980 885 1010 880 1020 C 910 950 900 860 850 810 C 760 810 680 760 610 655 Z" fill="#4d4d4d"/>
<path d="M 1105 650 C 1000 660 910 710 885 790 C 905 860 945 920 945 1005 C 1000 890 1040 760 1105 650 Z" fill="#4d4d4d"/>
</g>
<g transform="translate(2486.0 3007.0) scale(0.235) translate(-610 -560)" filter="url(#blur2)">
<path d="M 645 595 C 780 560 950 560 1075 590 C 960 600 880 650 860 730 C 800 745 720 700 645 595 Z" fill="#4d4d4d"/>
<path d="M 610 655 C 650 800 760 900 840 950 C 870 980 885 1010 880 1020 C 910 950 900 860 850 810 C 760 810 680 760 610 655 Z" fill="#4d4d4d"/>
<path d="M 1105 650 C 1000 660 910 710 885 790 C 905 860 945 920 945 1005 C 1000 890 1040 760 1105 650 Z" fill="#4d4d4d"/>
</g>
<text transform="translate(2728 2778) rotate(-90)" font-family="Liberation Sans, sans-serif" font-weight="bold" font-size="58" fill="#4d4d4d" textLength="300" lengthAdjust="spacingAndGlyphs">RTECH</text>
<g font-family="Liberation Sans, sans-serif" fill="#000">
<text x="637.4" y="806.0" textLength="558.0" lengthAdjust="spacingAndGlyphs" font-size="101" font-weight="bold">CE Approved</text>
<text x="512.1" y="923.0" textLength="824.8" lengthAdjust="spacingAndGlyphs" font-size="98" font-weight="normal">Shoulder Protectors</text>
<text x="3284.0" y="1142.2" textLength="673.0" lengthAdjust="spacingAndGlyphs" font-size="98" font-weight="normal">Shoulder Sliders</text>
<text x="3293.7" y="2336.4" textLength="557.4" lengthAdjust="spacingAndGlyphs" font-size="101" font-weight="bold">CE Approved</text>
<text x="3285.5" y="2441.4" textLength="594.5" lengthAdjust="spacingAndGlyphs" font-size="98" font-weight="normal">Hip Protectors</text>
<text x="608.7" y="2588.8" textLength="557.0" lengthAdjust="spacingAndGlyphs" font-size="101" font-weight="bold">CE Approved</text>
<text x="557.8" y="2706.7" textLength="658.1" lengthAdjust="spacingAndGlyphs" font-size="98" font-weight="normal">Knee Protectors</text>
<text x="3137.8" y="3118.2" textLength="997.6" lengthAdjust="spacingAndGlyphs" font-size="98" font-weight="normal">Removable Knee Sliders</text>
<text x="684.7" y="3439.3" textLength="442.2" lengthAdjust="spacingAndGlyphs" font-size="98" font-weight="normal">Velcro&#8217;s for</text>
<text x="453.0" y="3543.0" textLength="910.1" lengthAdjust="spacingAndGlyphs" font-size="98" font-weight="normal">attaching knee sliders</text>
</g>
<g fill="none" stroke="#000" stroke-width="4.5" stroke-linejoin="miter">
<path d="M449 945 L1413 945 L1693 782"/>
<path d="M2731 1015 L3023 1173 L4013 1173"/>
<path d="M2693 2236 L3101 2475 L3989 2475"/>
<path d="M457 2739 L1417 2739 L1685 2898"/>
<path d="M4194 3148 L2970 3148 L2658 3347"/>
<path d="M388 3570 L1535 3570 L1785 3298"/>
</g>
</svg></body></html>
